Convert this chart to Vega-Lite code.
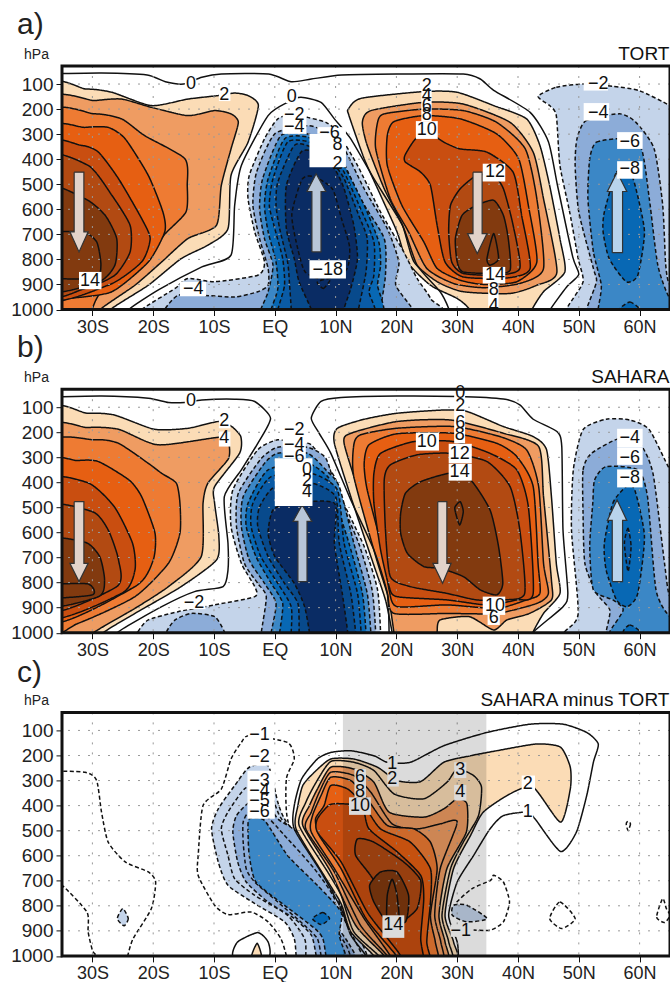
{"$schema":"https://vega.github.io/schema/vega-lite/v6.json","padding":{"left":10,"top":9,"right":0,"bottom":0},"background":"white","bounds":"flush","spacing":79.2,
"config":{"font":"Liberation Sans","view":{"stroke":null},"axis":{"domain":false,"grid":false,"labelFont":"Liberation Sans","labelFontSize":18,"labelColor":"#222","tickColor":"#111","tickSize":6,"tickWidth":1,"labelPadding":3,"titleFont":"Liberation Sans"}},
"datasets":{
"gridLat":[{"lat":-30},{"lat":-20},{"lat":-10},{"lat":0},{"lat":10},{"lat":20},{"lat":30},{"lat":40},{"lat":50},{"lat":60}],
"gridP":[{"p":100},{"p":200},{"p":300},{"p":400},{"p":500},{"p":600},{"p":700},{"p":800},{"p":900}],
"aOpen":[
{"id":"t","lat":-38,"p":60,"v":0},{"id":"t","lat":-28.5,"p":56,"v":0},{"id":"t","lat":-21,"p":64,"v":0},{"id":"t","lat":-18,"p":91,"v":0},{"id":"t","lat":-15,"p":100,"v":0},{"id":"t","lat":-12,"p":73,"v":0},{"id":"t","lat":-8.8,"p":60,"v":0},{"id":"t","lat":-1,"p":60,"v":0},{"id":"t","lat":2.7,"p":91,"v":0},{"id":"t","lat":6,"p":80,"v":0},{"id":"t","lat":11,"p":64,"v":0},{"id":"t","lat":20,"p":60,"v":0},{"id":"t","lat":31,"p":60,"v":0},{"id":"t","lat":33.8,"p":80,"v":0},{"id":"t","lat":36,"p":125,"v":0},{"id":"t","lat":42,"p":213,"v":0},{"id":"t","lat":45,"p":330,"v":0},{"id":"t","lat":46.5,"p":505,"v":0},{"id":"t","lat":49,"p":790,"v":0},{"id":"t","lat":50,"p":860,"v":0},{"id":"t","lat":48,"p":910,"v":0},{"id":"t","lat":45.3,"p":1000,"v":0},{"id":"t","lat":44.8,"p":1040,"v":0},
{"id":"i","lat":-24.5,"p":1040,"v":0},{"id":"i","lat":-24,"p":1000,"v":0},{"id":"i","lat":-19,"p":920,"v":0},{"id":"i","lat":-12,"p":830,"v":0},{"id":"i","lat":-7.2,"p":783,"v":0},{"id":"i","lat":-6.6,"p":584,"v":0},{"id":"i","lat":-5.5,"p":425,"v":0},{"id":"i","lat":-1.1,"p":226,"v":0},{"id":"i","lat":2.1,"p":173,"v":0},{"id":"i","lat":4.3,"p":153,"v":0},{"id":"i","lat":7.6,"p":173,"v":0},{"id":"i","lat":9.8,"p":239,"v":0},{"id":"i","lat":12.5,"p":319,"v":0},{"id":"i","lat":16.3,"p":478,"v":0},{"id":"i","lat":21,"p":664,"v":0},{"id":"i","lat":23.4,"p":823,"v":0},{"id":"i","lat":27.2,"p":929,"v":0},{"id":"i","lat":28.6,"p":996,"v":0},{"id":"i","lat":29,"p":1040,"v":0}],
"aClosed":[
{"id":"s2","lat":-38,"p":136,"v":2},{"id":"s2","lat":-31,"p":120,"v":2},{"id":"s2","lat":-26.8,"p":133,"v":2},{"id":"s2","lat":-20.3,"p":186,"v":2},{"id":"s2","lat":-14.3,"p":160,"v":2},{"id":"s2","lat":-9.3,"p":146,"v":2},{"id":"s2","lat":-6.6,"p":136,"v":2},{"id":"s2","lat":-4.4,"p":146,"v":2},{"id":"s2","lat":-2.7,"p":186,"v":2},{"id":"s2","lat":-4.4,"p":332,"v":2},{"id":"s2","lat":-7.2,"p":465,"v":2},{"id":"s2","lat":-7.7,"p":677,"v":2},{"id":"s2","lat":-11,"p":743,"v":2},{"id":"s2","lat":-15.4,"p":797,"v":2},{"id":"s2","lat":-20.8,"p":903,"v":2},{"id":"s2","lat":-26.8,"p":996,"v":2},{"id":"s2","lat":-27.5,"p":1040,"v":2},{"id":"s2","lat":-38,"p":1040,"v":2},
{"id":"s4","lat":-38,"p":189,"v":4},{"id":"s4","lat":-29.6,"p":166,"v":4},{"id":"s4","lat":-25.2,"p":160,"v":4},{"id":"s4","lat":-20.3,"p":193,"v":4},{"id":"s4","lat":-14.3,"p":226,"v":4},{"id":"s4","lat":-9.9,"p":206,"v":4},{"id":"s4","lat":-7.2,"p":219,"v":4},{"id":"s4","lat":-6,"p":253,"v":4},{"id":"s4","lat":-7.2,"p":359,"v":4},{"id":"s4","lat":-8.8,"p":505,"v":4},{"id":"s4","lat":-9.6,"p":664,"v":4},{"id":"s4","lat":-14.3,"p":717,"v":4},{"id":"s4","lat":-18.6,"p":810,"v":4},{"id":"s4","lat":-23,"p":903,"v":4},{"id":"s4","lat":-28.5,"p":996,"v":4},{"id":"s4","lat":-29,"p":1040,"v":4},{"id":"s4","lat":-38,"p":1040,"v":4},
{"id":"s6","lat":-38,"p":237,"v":6},{"id":"s6","lat":-29.6,"p":219,"v":6},{"id":"s6","lat":-25.2,"p":239,"v":6},{"id":"s6","lat":-21.4,"p":306,"v":6},{"id":"s6","lat":-14.8,"p":398,"v":6},{"id":"s6","lat":-14.4,"p":505,"v":6},{"id":"s6","lat":-14.6,"p":610,"v":6},{"id":"s6","lat":-18,"p":697,"v":6},{"id":"s6","lat":-22,"p":810,"v":6},{"id":"s6","lat":-28.5,"p":929,"v":6},{"id":"s6","lat":-30,"p":996,"v":6},{"id":"s6","lat":-30.5,"p":1040,"v":6},{"id":"s6","lat":-38,"p":1040,"v":6},
{"id":"s8","lat":-38,"p":296,"v":8},{"id":"s8","lat":-31.2,"p":273,"v":8},{"id":"s8","lat":-27.4,"p":273,"v":8},{"id":"s8","lat":-24.6,"p":319,"v":8},{"id":"s8","lat":-20.8,"p":465,"v":8},{"id":"s8","lat":-18.4,"p":611,"v":8},{"id":"s8","lat":-18.1,"p":690,"v":8},{"id":"s8","lat":-20.8,"p":810,"v":8},{"id":"s8","lat":-26.8,"p":929,"v":8},{"id":"s8","lat":-34,"p":956,"v":8},{"id":"s8","lat":-38,"p":960,"v":8},
{"id":"s10","lat":-38,"p":352,"v":10},{"id":"s10","lat":-31.8,"p":345,"v":10},{"id":"s10","lat":-29,"p":372,"v":10},{"id":"s10","lat":-25.7,"p":478,"v":10},{"id":"s10","lat":-21.9,"p":637,"v":10},{"id":"s10","lat":-20.5,"p":717,"v":10},{"id":"s10","lat":-21.9,"p":810,"v":10},{"id":"s10","lat":-27.4,"p":903,"v":10},{"id":"s10","lat":-38,"p":945,"v":10},
{"id":"s12","lat":-38,"p":399,"v":12},{"id":"s12","lat":-30.7,"p":425,"v":12},{"id":"s12","lat":-26.8,"p":544,"v":12},{"id":"s12","lat":-23.8,"p":664,"v":12},{"id":"s12","lat":-23.8,"p":770,"v":12},{"id":"s12","lat":-26.3,"p":863,"v":12},{"id":"s12","lat":-31.2,"p":916,"v":12},{"id":"s12","lat":-38,"p":932,"v":12},
{"id":"s14","lat":-38,"p":515,"v":14},{"id":"s14","lat":-31.2,"p":558,"v":14},{"id":"s14","lat":-27.9,"p":624,"v":14},{"id":"s14","lat":-26,"p":717,"v":14},{"id":"s14","lat":-26.3,"p":823,"v":14},{"id":"s14","lat":-29,"p":890,"v":14},{"id":"s14","lat":-38,"p":918,"v":14},
{"id":"s16","lat":-38,"p":704,"v":16},{"id":"s16","lat":-31.7,"p":690,"v":16},{"id":"s16","lat":-29.3,"p":730,"v":16},{"id":"s16","lat":-28.6,"p":823,"v":16},{"id":"s16","lat":-29.6,"p":876,"v":16},{"id":"s16","lat":-38,"p":863,"v":16},
{"id":"n2","lat":12.1,"p":200,"v":2},{"id":"n2","lat":14.2,"p":157,"v":2},{"id":"n2","lat":24.5,"p":130,"v":2},{"id":"n2","lat":30,"p":133,"v":2},{"id":"n2","lat":36,"p":186,"v":2},{"id":"n2","lat":41.4,"p":239,"v":2},{"id":"n2","lat":43.6,"p":345,"v":2},{"id":"n2","lat":45.2,"p":505,"v":2},{"id":"n2","lat":46.9,"p":717,"v":2},{"id":"n2","lat":47.7,"p":850,"v":2},{"id":"n2","lat":44.2,"p":929,"v":2},{"id":"n2","lat":42.3,"p":1000,"v":2},{"id":"n2","lat":42,"p":1040,"v":2},{"id":"n2","lat":32,"p":1040,"v":2},{"id":"n2","lat":31.9,"p":996,"v":2},{"id":"n2","lat":30,"p":956,"v":2},{"id":"n2","lat":25.6,"p":903,"v":2},{"id":"n2","lat":21.8,"p":810,"v":2},{"id":"n2","lat":20.1,"p":690,"v":2},{"id":"n2","lat":17.4,"p":544,"v":2},{"id":"n2","lat":14.7,"p":398,"v":2},{"id":"n2","lat":12.2,"p":226,"v":2},
{"id":"n4","lat":14.4,"p":253,"v":4},{"id":"n4","lat":15.8,"p":206,"v":4},{"id":"n4","lat":24.5,"p":173,"v":4},{"id":"n4","lat":31,"p":180,"v":4},{"id":"n4","lat":38.7,"p":253,"v":4},{"id":"n4","lat":42.5,"p":372,"v":4},{"id":"n4","lat":44.2,"p":558,"v":4},{"id":"n4","lat":46.4,"p":850,"v":4},{"id":"n4","lat":43.1,"p":903,"v":4},{"id":"n4","lat":38.7,"p":936,"v":4},{"id":"n4","lat":31,"p":929,"v":4},{"id":"n4","lat":26.7,"p":889,"v":4},{"id":"n4","lat":22.9,"p":810,"v":4},{"id":"n4","lat":21,"p":664,"v":4},{"id":"n4","lat":18,"p":518,"v":4},{"id":"n4","lat":15.2,"p":345,"v":4},
{"id":"n6","lat":16.9,"p":253,"v":6},{"id":"n6","lat":18,"p":219,"v":6},{"id":"n6","lat":24.5,"p":200,"v":6},{"id":"n6","lat":31,"p":206,"v":6},{"id":"n6","lat":36.5,"p":253,"v":6},{"id":"n6","lat":41.2,"p":359,"v":6},{"id":"n6","lat":43.1,"p":558,"v":6},{"id":"n6","lat":44.2,"p":836,"v":6},{"id":"n6","lat":40.3,"p":896,"v":6},{"id":"n6","lat":34.4,"p":913,"v":6},{"id":"n6","lat":29.4,"p":896,"v":6},{"id":"n6","lat":25,"p":836,"v":6},{"id":"n6","lat":22,"p":690,"v":6},{"id":"n6","lat":19,"p":558,"v":6},{"id":"n6","lat":16.6,"p":359,"v":6},
{"id":"n8","lat":18.5,"p":306,"v":8},{"id":"n8","lat":19.6,"p":250,"v":8},{"id":"n8","lat":24.5,"p":226,"v":8},{"id":"n8","lat":30.5,"p":239,"v":8},{"id":"n8","lat":36.5,"p":299,"v":8},{"id":"n8","lat":40.1,"p":398,"v":8},{"id":"n8","lat":41.7,"p":584,"v":8},{"id":"n8","lat":43.1,"p":810,"v":8},{"id":"n8","lat":39.8,"p":889,"v":8},{"id":"n8","lat":34.4,"p":900,"v":8},{"id":"n8","lat":30.5,"p":883,"v":8},{"id":"n8","lat":26.7,"p":836,"v":8},{"id":"n8","lat":24.5,"p":730,"v":8},{"id":"n8","lat":20.9,"p":584,"v":8},{"id":"n8","lat":18.5,"p":425,"v":8},
{"id":"n10","lat":21.4,"p":385,"v":10},{"id":"n10","lat":22.9,"p":326,"v":10},{"id":"n10","lat":24.8,"p":286,"v":10},{"id":"n10","lat":27.8,"p":332,"v":10},{"id":"n10","lat":30.5,"p":359,"v":10},{"id":"n10","lat":34.9,"p":372,"v":10},{"id":"n10","lat":39.2,"p":452,"v":10},{"id":"n10","lat":40.6,"p":624,"v":10},{"id":"n10","lat":42,"p":836,"v":10},{"id":"n10","lat":38.2,"p":874,"v":10},{"id":"n10","lat":31,"p":870,"v":10},{"id":"n10","lat":28,"p":810,"v":10},{"id":"n10","lat":26.7,"p":664,"v":10},{"id":"n10","lat":25.6,"p":505,"v":10},{"id":"n10","lat":24,"p":452,"v":10},{"id":"n10","lat":21.5,"p":412,"v":10},
{"id":"n12","lat":28.9,"p":584,"v":12},{"id":"n12","lat":30.5,"p":518,"v":12},{"id":"n12","lat":33.2,"p":465,"v":12},{"id":"n12","lat":36,"p":465,"v":12},{"id":"n12","lat":37.6,"p":518,"v":12},{"id":"n12","lat":39.2,"p":664,"v":12},{"id":"n12","lat":40.3,"p":836,"v":12},{"id":"n12","lat":36.5,"p":863,"v":12},{"id":"n12","lat":31,"p":856,"v":12},{"id":"n12","lat":29.1,"p":810,"v":12},{"id":"n12","lat":28.6,"p":690,"v":12},
{"id":"n14","lat":29.7,"p":717,"v":14},{"id":"n14","lat":30.8,"p":624,"v":14},{"id":"n14","lat":33.2,"p":584,"v":14},{"id":"n14","lat":36,"p":564,"v":14},{"id":"n14","lat":37.6,"p":624,"v":14},{"id":"n14","lat":38.4,"p":717,"v":14},{"id":"n14","lat":38.7,"p":843,"v":14},{"id":"n14","lat":36,"p":856,"v":14},{"id":"n14","lat":31,"p":850,"v":14},{"id":"n14","lat":30,"p":810,"v":14},
{"id":"n16","lat":34.9,"p":797,"v":16},{"id":"n16","lat":36,"p":697,"v":16},{"id":"n16","lat":36.8,"p":797,"v":16},{"id":"n16","lat":35.4,"p":823,"v":16},
{"id":"e2","lat":43.3,"p":149,"v":-2},{"id":"e2","lat":46.3,"p":113,"v":-2},{"id":"e2","lat":50.7,"p":100,"v":-2},{"id":"e2","lat":55.6,"p":109,"v":-2},{"id":"e2","lat":60,"p":127,"v":-2},{"id":"e2","lat":65,"p":186,"v":-2},{"id":"e2","lat":68,"p":230,"v":-2},{"id":"e2","lat":68,"p":1040,"v":-2},{"id":"e2","lat":48,"p":1040,"v":-2},{"id":"e2","lat":48.2,"p":989,"v":-2},{"id":"e2","lat":50.7,"p":890,"v":-2},{"id":"e2","lat":49.9,"p":797,"v":-2},{"id":"e2","lat":48.5,"p":611,"v":-2},{"id":"e2","lat":46.9,"p":425,"v":-2},{"id":"e2","lat":46.3,"p":226,"v":-2},{"id":"e2","lat":45.2,"p":186,"v":-2},
{"id":"e4","lat":49.7,"p":319,"v":-4},{"id":"e4","lat":51.2,"p":246,"v":-4},{"id":"e4","lat":56.7,"p":219,"v":-4},{"id":"e4","lat":59.4,"p":253,"v":-4},{"id":"e4","lat":62.4,"p":359,"v":-4},{"id":"e4","lat":63.8,"p":584,"v":-4},{"id":"e4","lat":64.3,"p":823,"v":-4},{"id":"e4","lat":65,"p":903,"v":-4},{"id":"e4","lat":68,"p":930,"v":-4},{"id":"e4","lat":68,"p":1040,"v":-4},{"id":"e4","lat":51,"p":1040,"v":-4},{"id":"e4","lat":51.3,"p":996,"v":-4},{"id":"e4","lat":52.9,"p":890,"v":-4},{"id":"e4","lat":52.4,"p":836,"v":-4},{"id":"e4","lat":50,"p":611,"v":-4},{"id":"e4","lat":49.4,"p":425,"v":-4},
{"id":"e6","lat":51.8,"p":398,"v":-6},{"id":"e6","lat":52.9,"p":332,"v":-6},{"id":"e6","lat":57.2,"p":319,"v":-6},{"id":"e6","lat":60.3,"p":359,"v":-6},{"id":"e6","lat":61.6,"p":558,"v":-6},{"id":"e6","lat":63,"p":823,"v":-6},{"id":"e6","lat":65,"p":956,"v":-6},{"id":"e6","lat":68,"p":980,"v":-6},{"id":"e6","lat":68,"p":1040,"v":-6},{"id":"e6","lat":53.2,"p":1040,"v":-6},{"id":"e6","lat":53.2,"p":996,"v":-6},{"id":"e6","lat":53.7,"p":903,"v":-6},{"id":"e6","lat":52.4,"p":770,"v":-6},{"id":"e6","lat":51.5,"p":558,"v":-6},
{"id":"e8","lat":54.2,"p":611,"v":-8},{"id":"e8","lat":56.2,"p":452,"v":-8},{"id":"e8","lat":58.4,"p":452,"v":-8},{"id":"e8","lat":59.4,"p":518,"v":-8},{"id":"e8","lat":60.8,"p":690,"v":-8},{"id":"e8","lat":59.7,"p":863,"v":-8},{"id":"e8","lat":57.8,"p":889,"v":-8},{"id":"e8","lat":55,"p":797,"v":-8},{"id":"e8","lat":54,"p":690,"v":-8},
{"id":"e8b","lat":56.7,"p":1000,"v":-8},{"id":"e8b","lat":58.4,"p":970,"v":-8},{"id":"e8b","lat":60,"p":1000,"v":-8},{"id":"e8b","lat":58.4,"p":1040,"v":-8},
{"id":"m2","lat":-22.5,"p":1040,"v":-2},{"id":"m2","lat":-21.9,"p":1000,"v":-2},{"id":"m2","lat":-16.4,"p":916,"v":-2},{"id":"m2","lat":-14.3,"p":876,"v":-2},{"id":"m2","lat":-9.9,"p":889,"v":-2},{"id":"m2","lat":-2.8,"p":863,"v":-2},{"id":"m2","lat":-1.7,"p":810,"v":-2},{"id":"m2","lat":-3.3,"p":690,"v":-2},{"id":"m2","lat":-4.4,"p":558,"v":-2},{"id":"m2","lat":-4.2,"p":465,"v":-2},{"id":"m2","lat":-1.7,"p":319,"v":-2},{"id":"m2","lat":0.5,"p":239,"v":-2},{"id":"m2","lat":3.2,"p":219,"v":-2},{"id":"m2","lat":5.4,"p":233,"v":-2},{"id":"m2","lat":8.4,"p":253,"v":-2},{"id":"m2","lat":10.3,"p":292,"v":-2},{"id":"m2","lat":13.6,"p":425,"v":-2},{"id":"m2","lat":17.4,"p":611,"v":-2},{"id":"m2","lat":21.2,"p":770,"v":-2},{"id":"m2","lat":23.4,"p":876,"v":-2},{"id":"m2","lat":25.6,"p":956,"v":-2},{"id":"m2","lat":26,"p":1040,"v":-2},
{"id":"m4","lat":-18.5,"p":1040,"v":-4},{"id":"m4","lat":-18,"p":996,"v":-4},{"id":"m4","lat":-15.9,"p":943,"v":-4},{"id":"m4","lat":-12,"p":943,"v":-4},{"id":"m4","lat":-6.6,"p":950,"v":-4},{"id":"m4","lat":-2.8,"p":929,"v":-4},{"id":"m4","lat":-1.1,"p":903,"v":-4},{"id":"m4","lat":-1.1,"p":836,"v":-4},{"id":"m4","lat":-2.5,"p":717,"v":-4},{"id":"m4","lat":-3.6,"p":584,"v":-4},{"id":"m4","lat":-3,"p":452,"v":-4},{"id":"m4","lat":0,"p":299,"v":-4},{"id":"m4","lat":5.4,"p":266,"v":-4},{"id":"m4","lat":8.4,"p":292,"v":-4},{"id":"m4","lat":11.4,"p":359,"v":-4},{"id":"m4","lat":14.7,"p":518,"v":-4},{"id":"m4","lat":18.5,"p":677,"v":-4},{"id":"m4","lat":20.4,"p":810,"v":-4},{"id":"m4","lat":19.9,"p":903,"v":-4},{"id":"m4","lat":22.6,"p":996,"v":-4},{"id":"m4","lat":22.8,"p":1040,"v":-4},
{"id":"m6","lat":-2.5,"p":1040,"v":-6},{"id":"m6","lat":-2.3,"p":1000,"v":-6},{"id":"m6","lat":-1.1,"p":929,"v":-6},{"id":"m6","lat":-0.3,"p":823,"v":-6},{"id":"m6","lat":-1.7,"p":717,"v":-6},{"id":"m6","lat":-2.5,"p":597,"v":-6},{"id":"m6","lat":-2,"p":478,"v":-6},{"id":"m6","lat":1,"p":306,"v":-6},{"id":"m6","lat":5.4,"p":299,"v":-6},{"id":"m6","lat":9.8,"p":345,"v":-6},{"id":"m6","lat":10.8,"p":385,"v":-6},{"id":"m6","lat":14.1,"p":558,"v":-6},{"id":"m6","lat":18,"p":717,"v":-6},{"id":"m6","lat":18.2,"p":863,"v":-6},{"id":"m6","lat":17.4,"p":996,"v":-6},{"id":"m6","lat":17.4,"p":1040,"v":-6},
{"id":"m8","lat":-0.8,"p":1040,"v":-8},{"id":"m8","lat":-0.6,"p":1000,"v":-8},{"id":"m8","lat":0.5,"p":916,"v":-8},{"id":"m8","lat":0.2,"p":810,"v":-8},{"id":"m8","lat":-1.1,"p":690,"v":-8},{"id":"m8","lat":-1.7,"p":584,"v":-8},{"id":"m8","lat":-1.1,"p":478,"v":-8},{"id":"m8","lat":1.6,"p":319,"v":-8},{"id":"m8","lat":5.4,"p":312,"v":-8},{"id":"m8","lat":9.8,"p":372,"v":-8},{"id":"m8","lat":11.4,"p":425,"v":-8},{"id":"m8","lat":14.7,"p":584,"v":-8},{"id":"m8","lat":17.1,"p":730,"v":-8},{"id":"m8","lat":17.4,"p":823,"v":-8},{"id":"m8","lat":16.9,"p":903,"v":-8},{"id":"m8","lat":17.2,"p":1040,"v":-8},
{"id":"m10","lat":0.3,"p":1040,"v":-10},{"id":"m10","lat":0.5,"p":1000,"v":-10},{"id":"m10","lat":1.6,"p":903,"v":-10},{"id":"m10","lat":1.3,"p":797,"v":-10},{"id":"m10","lat":0,"p":677,"v":-10},{"id":"m10","lat":-0.9,"p":584,"v":-10},{"id":"m10","lat":-0.3,"p":478,"v":-10},{"id":"m10","lat":2.1,"p":332,"v":-10},{"id":"m10","lat":5.7,"p":332,"v":-10},{"id":"m10","lat":9.8,"p":398,"v":-10},{"id":"m10","lat":11.4,"p":452,"v":-10},{"id":"m10","lat":14.1,"p":597,"v":-10},{"id":"m10","lat":16.3,"p":730,"v":-10},{"id":"m10","lat":16.3,"p":863,"v":-10},{"id":"m10","lat":15.5,"p":929,"v":-10},{"id":"m10","lat":16,"p":1040,"v":-10},
{"id":"m12","lat":2.6,"p":1040,"v":-12},{"id":"m12","lat":2.7,"p":1000,"v":-12},{"id":"m12","lat":2.4,"p":890,"v":-12},{"id":"m12","lat":2.1,"p":810,"v":-12},{"id":"m12","lat":0.8,"p":677,"v":-12},{"id":"m12","lat":0.2,"p":584,"v":-12},{"id":"m12","lat":0.5,"p":491,"v":-12},{"id":"m12","lat":3.2,"p":345,"v":-12},{"id":"m12","lat":6,"p":352,"v":-12},{"id":"m12","lat":9.8,"p":425,"v":-12},{"id":"m12","lat":11.4,"p":478,"v":-12},{"id":"m12","lat":13.8,"p":624,"v":-12},{"id":"m12","lat":15.2,"p":717,"v":-12},{"id":"m12","lat":15,"p":850,"v":-12},{"id":"m12","lat":13.8,"p":996,"v":-12},{"id":"m12","lat":13.8,"p":1040,"v":-12},
{"id":"m14","lat":6,"p":1040,"v":-14},{"id":"m14","lat":6,"p":1000,"v":-14},{"id":"m14","lat":4,"p":890,"v":-14},{"id":"m14","lat":3.2,"p":797,"v":-14},{"id":"m14","lat":1.9,"p":677,"v":-14},{"id":"m14","lat":1.9,"p":505,"v":-14},{"id":"m14","lat":4.3,"p":372,"v":-14},{"id":"m14","lat":6.5,"p":372,"v":-14},{"id":"m14","lat":9.8,"p":438,"v":-14},{"id":"m14","lat":11.4,"p":518,"v":-14},{"id":"m14","lat":13,"p":664,"v":-14},{"id":"m14","lat":13.6,"p":797,"v":-14},{"id":"m14","lat":12.5,"p":916,"v":-14},{"id":"m14","lat":11.4,"p":996,"v":-14},{"id":"m14","lat":11.4,"p":1040,"v":-14},
{"id":"m16","lat":2.8,"p":620,"v":-16},{"id":"m16","lat":4.5,"p":480,"v":-16},{"id":"m16","lat":6.5,"p":470,"v":-16},{"id":"m16","lat":9.5,"p":520,"v":-16},{"id":"m16","lat":11,"p":640,"v":-16},{"id":"m16","lat":12.3,"p":750,"v":-16},{"id":"m16","lat":11.8,"p":840,"v":-16},{"id":"m16","lat":8,"p":880,"v":-16},{"id":"m16","lat":5,"p":850,"v":-16},{"id":"m16","lat":3.8,"p":760,"v":-16},
{"id":"m18","lat":7,"p":890,"v":-18},{"id":"m18","lat":8,"p":916,"v":-18},{"id":"m18","lat":9.2,"p":876,"v":-18}],
"aArrow":[
{"id":"a1","kind":"sink","lat":-33,"p":452},{"id":"a1","kind":"sink","lat":-31.4,"p":452},{"id":"a1","kind":"sink","lat":-31.4,"p":690},{"id":"a1","kind":"sink","lat":-30.7,"p":690},{"id":"a1","kind":"sink","lat":-32.2,"p":770},{"id":"a1","kind":"sink","lat":-33.7,"p":690},{"id":"a1","kind":"sink","lat":-33,"p":690},{"id":"a1","kind":"sink","lat":-33,"p":452},
{"id":"a2","kind":"rise","lat":6.1,"p":770},{"id":"a2","kind":"rise","lat":7.6,"p":770},{"id":"a2","kind":"rise","lat":7.6,"p":529},{"id":"a2","kind":"rise","lat":8.4,"p":529},{"id":"a2","kind":"rise","lat":6.8,"p":458},{"id":"a2","kind":"rise","lat":5.3,"p":529},{"id":"a2","kind":"rise","lat":6.1,"p":529},{"id":"a2","kind":"rise","lat":6.1,"p":770},
{"id":"a3","kind":"sink","lat":32.6,"p":452},{"id":"a3","kind":"sink","lat":34.1,"p":452},{"id":"a3","kind":"sink","lat":34.1,"p":697},{"id":"a3","kind":"sink","lat":34.9,"p":697},{"id":"a3","kind":"sink","lat":33.3,"p":777},{"id":"a3","kind":"sink","lat":31.7,"p":697},{"id":"a3","kind":"sink","lat":32.6,"p":697},{"id":"a3","kind":"sink","lat":32.6,"p":452},
{"id":"a4","kind":"riseb","lat":55.5,"p":773},{"id":"a4","kind":"riseb","lat":57.2,"p":773},{"id":"a4","kind":"riseb","lat":57.2,"p":529},{"id":"a4","kind":"riseb","lat":57.9,"p":529},{"id":"a4","kind":"riseb","lat":56.3,"p":452},{"id":"a4","kind":"riseb","lat":54.7,"p":529},{"id":"a4","kind":"riseb","lat":55.5,"p":529},{"id":"a4","kind":"riseb","lat":55.5,"p":773}],
"aBox":[
{"lat0":-14.8,"lat1":-12.9,"p0":78,"p1":122},{"lat0":-9.2,"lat1":-7.3,"p0":118,"p1":168},{"lat0":1.8,"lat1":3.8,"p0":130,"p1":176},{"lat0":1.3,"lat1":5.2,"p0":205,"p1":299},{"lat0":5.7,"lat1":11.7,"p0":299,"p1":432},{"lat0":7,"lat1":11.7,"p0":272,"p1":299},{"lat0":5.7,"lat1":11.7,"p0":803,"p1":876},{"lat0":-32.2,"lat1":-28.5,"p0":850,"p1":919},{"lat0":-15.6,"lat1":-11.3,"p0":890,"p1":947},{"lat0":24.1,"lat1":25.8,"p0":78,"p1":248},{"lat0":23.2,"lat1":26.8,"p0":248,"p1":319},{"lat0":34.2,"lat1":37.9,"p0":418,"p1":489},{"lat0":34.2,"lat1":37.9,"p0":830,"p1":896},{"lat0":35.1,"lat1":36.8,"p0":896,"p1":1000},{"lat0":50.8,"lat1":54.8,"p0":80,"p1":126},{"lat0":50.8,"lat1":55,"p0":176,"p1":246},{"lat0":56.3,"lat1":60.5,"p0":292,"p1":359},{"lat0":56.3,"lat1":60.5,"p0":408,"p1":478}],
"aText":[
{"t":"0","lat":-13.8,"p":100},{"t":"2","lat":-8.3,"p":143},{"t":"0","lat":2.8,"p":153},{"t":"−2","lat":3.2,"p":223},{"t":"−4","lat":3.2,"p":272},{"t":"−6","lat":9,"p":296},{"t":"8","lat":10.3,"p":345},{"t":"2","lat":10.3,"p":420},{"t":"−18","lat":8.7,"p":843},{"t":"14","lat":-30.4,"p":887},{"t":"−4","lat":-13.4,"p":919},{"t":"2","lat":25,"p":109},{"t":"4","lat":25,"p":148},{"t":"6","lat":25,"p":186},{"t":"8","lat":25,"p":222},{"t":"10","lat":25,"p":283},{"t":"12","lat":36.2,"p":452},{"t":"14","lat":36.2,"p":863},{"t":"8","lat":36,"p":923},{"t":"4","lat":36,"p":985},{"t":"−2","lat":53.2,"p":100},{"t":"−4","lat":53.2,"p":215},{"t":"−6","lat":58.4,"p":330},{"t":"−8","lat":58.4,"p":441}],
"bOpen":[
{"id":"a","lat":-38,"p":60,"v":0},{"id":"a","lat":-28.5,"p":55,"v":0},{"id":"a","lat":-20.8,"p":64,"v":0},{"id":"a","lat":-17.5,"p":81,"v":0},{"id":"a","lat":-14.8,"p":81,"v":0},{"id":"a","lat":-12,"p":71,"v":0},{"id":"a","lat":-6.6,"p":68,"v":0},{"id":"a","lat":-3.3,"p":77,"v":0},{"id":"a","lat":-0.7,"p":144,"v":0},{"id":"a","lat":-2.8,"p":244,"v":0},{"id":"a","lat":-5.5,"p":350,"v":0},{"id":"a","lat":-8.3,"p":457,"v":0},{"id":"a","lat":-7.7,"p":643,"v":0},{"id":"a","lat":-7.7,"p":750,"v":0},{"id":"a","lat":-8.5,"p":816,"v":0},{"id":"a","lat":-13.2,"p":836,"v":0},{"id":"a","lat":-18.6,"p":896,"v":0},{"id":"a","lat":-25.7,"p":996,"v":0},{"id":"a","lat":-26,"p":1040,"v":0},
{"id":"b","lat":18.8,"p":1040,"v":0},{"id":"b","lat":18.8,"p":1000,"v":0},{"id":"b","lat":18.5,"p":843,"v":0},{"id":"b","lat":16.3,"p":670,"v":0},{"id":"b","lat":12.5,"p":470,"v":0},{"id":"b","lat":9.2,"p":283,"v":0},{"id":"b","lat":7.3,"p":204,"v":0},{"id":"b","lat":6,"p":144,"v":0},{"id":"b","lat":7.6,"p":77,"v":0},{"id":"b","lat":10.9,"p":61,"v":0},{"id":"b","lat":20.1,"p":55,"v":0},{"id":"b","lat":30,"p":57,"v":0},{"id":"b","lat":37.6,"p":67,"v":0},{"id":"b","lat":40.3,"p":91,"v":0},{"id":"b","lat":42.5,"p":148,"v":0},{"id":"b","lat":46.4,"p":197,"v":0},{"id":"b","lat":47.2,"p":257,"v":0},{"id":"b","lat":47.4,"p":590,"v":0},{"id":"b","lat":48.2,"p":843,"v":0},{"id":"b","lat":47.4,"p":896,"v":0},{"id":"b","lat":42.6,"p":996,"v":0},{"id":"b","lat":42,"p":1040,"v":0}],
"bClosed":[
{"id":"s2","lat":-38,"p":140,"v":2},{"id":"s2","lat":-30.8,"p":124,"v":2},{"id":"s2","lat":-26.4,"p":131,"v":2},{"id":"s2","lat":-19.8,"p":188,"v":2},{"id":"s2","lat":-14.3,"p":184,"v":2},{"id":"s2","lat":-9.3,"p":157,"v":2},{"id":"s2","lat":-7.2,"p":175,"v":2},{"id":"s2","lat":-5.6,"p":217,"v":2},{"id":"s2","lat":-5.8,"p":284,"v":2},{"id":"s2","lat":-9.9,"p":417,"v":2},{"id":"s2","lat":-9.9,"p":483,"v":2},{"id":"s2","lat":-9.2,"p":616,"v":2},{"id":"s2","lat":-9.6,"p":710,"v":2},{"id":"s2","lat":-15.4,"p":816,"v":2},{"id":"s2","lat":-23,"p":923,"v":2},{"id":"s2","lat":-28.2,"p":1000,"v":2},{"id":"s2","lat":-28.5,"p":1040,"v":2},{"id":"s2","lat":-38,"p":1040,"v":2},
{"id":"s4","lat":-38,"p":210,"v":4},{"id":"s4","lat":-30.8,"p":181,"v":4},{"id":"s4","lat":-25.7,"p":188,"v":4},{"id":"s4","lat":-19.2,"p":250,"v":4},{"id":"s4","lat":-9.3,"p":220,"v":4},{"id":"s4","lat":-7.7,"p":230,"v":4},{"id":"s4","lat":-7.6,"p":304,"v":4},{"id":"s4","lat":-11,"p":403,"v":4},{"id":"s4","lat":-11.8,"p":483,"v":4},{"id":"s4","lat":-12.1,"p":696,"v":4},{"id":"s4","lat":-17.5,"p":816,"v":4},{"id":"s4","lat":-23,"p":903,"v":4},{"id":"s4","lat":-29.8,"p":1000,"v":4},{"id":"s4","lat":-30,"p":1040,"v":4},{"id":"s4","lat":-38,"p":1040,"v":4},
{"id":"s6","lat":-38,"p":267,"v":6},{"id":"s6","lat":-29.6,"p":230,"v":6},{"id":"s6","lat":-25.7,"p":244,"v":6},{"id":"s6","lat":-20.8,"p":324,"v":6},{"id":"s6","lat":-18.6,"p":364,"v":6},{"id":"s6","lat":-16.2,"p":403,"v":6},{"id":"s6","lat":-15.6,"p":483,"v":6},{"id":"s6","lat":-15.6,"p":603,"v":6},{"id":"s6","lat":-17.5,"p":723,"v":6},{"id":"s6","lat":-23,"p":856,"v":6},{"id":"s6","lat":-32.3,"p":962,"v":6},{"id":"s6","lat":-38,"p":985,"v":6},
{"id":"s8","lat":-38,"p":337,"v":8},{"id":"s8","lat":-32.4,"p":313,"v":8},{"id":"s8","lat":-29,"p":317,"v":8},{"id":"s8","lat":-24,"p":390,"v":8},{"id":"s8","lat":-21.9,"p":457,"v":8},{"id":"s8","lat":-19.7,"p":603,"v":8},{"id":"s8","lat":-20,"p":710,"v":8},{"id":"s8","lat":-23,"p":816,"v":8},{"id":"s8","lat":-38,"p":955,"v":8},
{"id":"s10","lat":-38,"p":406,"v":10},{"id":"s10","lat":-30.8,"p":401,"v":10},{"id":"s10","lat":-26.4,"p":497,"v":10},{"id":"s10","lat":-23.4,"p":643,"v":10},{"id":"s10","lat":-23,"p":750,"v":10},{"id":"s10","lat":-25.2,"p":843,"v":10},{"id":"s10","lat":-38,"p":935,"v":10},
{"id":"s12","lat":-38,"p":503,"v":12},{"id":"s12","lat":-30,"p":517,"v":12},{"id":"s12","lat":-27.4,"p":590,"v":12},{"id":"s12","lat":-25.7,"p":710,"v":12},{"id":"s12","lat":-26,"p":816,"v":12},{"id":"s12","lat":-38,"p":915,"v":12},
{"id":"s14","lat":-38,"p":632,"v":14},{"id":"s14","lat":-31.2,"p":639,"v":14},{"id":"s14","lat":-28.8,"p":696,"v":14},{"id":"s14","lat":-28,"p":790,"v":14},{"id":"s14","lat":-29,"p":856,"v":14},{"id":"s14","lat":-38,"p":892,"v":14},
{"id":"s16","lat":-38,"p":812,"v":16},{"id":"s16","lat":-30.8,"p":805,"v":16},{"id":"s16","lat":-30,"p":849,"v":16},{"id":"s16","lat":-38,"p":862,"v":16},
{"id":"n2","lat":9.8,"p":244,"v":2},{"id":"n2","lat":10.3,"p":184,"v":2},{"id":"n2","lat":14.7,"p":148,"v":2},{"id":"n2","lat":20.1,"p":124,"v":2},{"id":"n2","lat":27.8,"p":111,"v":2},{"id":"n2","lat":31.6,"p":117,"v":2},{"id":"n2","lat":37.6,"p":177,"v":2},{"id":"n2","lat":42.5,"p":217,"v":2},{"id":"n2","lat":44.7,"p":270,"v":2},{"id":"n2","lat":45.5,"p":457,"v":2},{"id":"n2","lat":46.3,"p":723,"v":2},{"id":"n2","lat":46.9,"p":843,"v":2},{"id":"n2","lat":44.2,"p":923,"v":2},{"id":"n2","lat":42.5,"p":996,"v":2},{"id":"n2","lat":42,"p":1040,"v":2},{"id":"n2","lat":19.5,"p":1040,"v":2},{"id":"n2","lat":19.3,"p":1000,"v":2},{"id":"n2","lat":18.2,"p":869,"v":2},{"id":"n2","lat":15.8,"p":696,"v":2},{"id":"n2","lat":12.5,"p":457,"v":2},
{"id":"n4","lat":11.4,"p":244,"v":4},{"id":"n4","lat":12.5,"p":204,"v":4},{"id":"n4","lat":20.1,"p":157,"v":4},{"id":"n4","lat":28.9,"p":151,"v":4},{"id":"n4","lat":37.6,"p":204,"v":4},{"id":"n4","lat":43.4,"p":257,"v":4},{"id":"n4","lat":44.2,"p":457,"v":4},{"id":"n4","lat":45.5,"p":790,"v":4},{"id":"n4","lat":45.5,"p":869,"v":4},{"id":"n4","lat":41.9,"p":923,"v":4},{"id":"n4","lat":38.2,"p":949,"v":4},{"id":"n4","lat":36,"p":989,"v":4},{"id":"n4","lat":32,"p":936,"v":4},{"id":"n4","lat":27.2,"p":949,"v":4},{"id":"n4","lat":26.7,"p":996,"v":4},{"id":"n4","lat":26.7,"p":1040,"v":4},{"id":"n4","lat":19.8,"p":1040,"v":4},{"id":"n4","lat":19.6,"p":1000,"v":4},{"id":"n4","lat":18.8,"p":869,"v":4},{"id":"n4","lat":17.4,"p":696,"v":4},{"id":"n4","lat":14.1,"p":457,"v":4},
{"id":"n6","lat":13,"p":250,"v":6},{"id":"n6","lat":14.1,"p":210,"v":6},{"id":"n6","lat":20,"p":184,"v":6},{"id":"n6","lat":29.4,"p":177,"v":6},{"id":"n6","lat":37,"p":217,"v":6},{"id":"n6","lat":41.4,"p":270,"v":6},{"id":"n6","lat":43.4,"p":417,"v":6},{"id":"n6","lat":44.2,"p":723,"v":6},{"id":"n6","lat":45,"p":843,"v":6},{"id":"n6","lat":43.1,"p":883,"v":6},{"id":"n6","lat":36.5,"p":923,"v":6},{"id":"n6","lat":28.3,"p":923,"v":6},{"id":"n6","lat":19.6,"p":923,"v":6},{"id":"n6","lat":18.5,"p":843,"v":6},{"id":"n6","lat":16.6,"p":696,"v":6},{"id":"n6","lat":13,"p":377,"v":6},
{"id":"n8","lat":14.7,"p":324,"v":8},{"id":"n8","lat":15.5,"p":250,"v":8},{"id":"n8","lat":20.1,"p":206,"v":8},{"id":"n8","lat":29.4,"p":204,"v":8},{"id":"n8","lat":36.5,"p":244,"v":8},{"id":"n8","lat":39.8,"p":297,"v":8},{"id":"n8","lat":42.5,"p":417,"v":8},{"id":"n8","lat":43.3,"p":723,"v":8},{"id":"n8","lat":43.6,"p":843,"v":8},{"id":"n8","lat":41.4,"p":869,"v":8},{"id":"n8","lat":36.5,"p":903,"v":8},{"id":"n8","lat":28.3,"p":889,"v":8},{"id":"n8","lat":20.1,"p":896,"v":8},{"id":"n8","lat":18.8,"p":829,"v":8},{"id":"n8","lat":18,"p":696,"v":8},{"id":"n8","lat":15.2,"p":430,"v":8},
{"id":"n10","lat":16.3,"p":364,"v":10},{"id":"n10","lat":17.4,"p":284,"v":10},{"id":"n10","lat":22.9,"p":237,"v":10},{"id":"n10","lat":29.4,"p":237,"v":10},{"id":"n10","lat":35.4,"p":284,"v":10},{"id":"n10","lat":39.8,"p":350,"v":10},{"id":"n10","lat":41.7,"p":497,"v":10},{"id":"n10","lat":42.5,"p":843,"v":10},{"id":"n10","lat":39.8,"p":869,"v":10},{"id":"n10","lat":34.9,"p":889,"v":10},{"id":"n10","lat":28.3,"p":869,"v":10},{"id":"n10","lat":20.1,"p":856,"v":10},{"id":"n10","lat":18.8,"p":816,"v":10},{"id":"n10","lat":17.4,"p":670,"v":10},{"id":"n10","lat":16.3,"p":483,"v":10},
{"id":"n12","lat":18,"p":390,"v":12},{"id":"n12","lat":19,"p":330,"v":12},{"id":"n12","lat":23.4,"p":290,"v":12},{"id":"n12","lat":28.9,"p":284,"v":12},{"id":"n12","lat":34.9,"p":317,"v":12},{"id":"n12","lat":38.7,"p":417,"v":12},{"id":"n12","lat":40.3,"p":590,"v":12},{"id":"n12","lat":41.1,"p":843,"v":12},{"id":"n12","lat":37.6,"p":869,"v":12},{"id":"n12","lat":33.2,"p":869,"v":12},{"id":"n12","lat":28.3,"p":843,"v":12},{"id":"n12","lat":22.3,"p":816,"v":12},{"id":"n12","lat":19,"p":776,"v":12},{"id":"n12","lat":18.2,"p":590,"v":12},
{"id":"n14","lat":20.7,"p":523,"v":14},{"id":"n14","lat":21.5,"p":443,"v":14},{"id":"n14","lat":24,"p":397,"v":14},{"id":"n14","lat":28.9,"p":363,"v":14},{"id":"n14","lat":32.2,"p":390,"v":14},{"id":"n14","lat":35.4,"p":510,"v":14},{"id":"n14","lat":36.8,"p":656,"v":14},{"id":"n14","lat":37.5,"p":803,"v":14},{"id":"n14","lat":36.5,"p":849,"v":14},{"id":"n14","lat":33.8,"p":829,"v":14},{"id":"n14","lat":31,"p":776,"v":14},{"id":"n14","lat":27.2,"p":743,"v":14},{"id":"n14","lat":24.5,"p":736,"v":14},{"id":"n14","lat":21.8,"p":683,"v":14},{"id":"n14","lat":20.7,"p":603,"v":14},
{"id":"n16","lat":29.6,"p":503,"v":16},{"id":"n16","lat":30.5,"p":477,"v":16},{"id":"n16","lat":31,"p":517,"v":16},{"id":"n16","lat":30.4,"p":570,"v":16},
{"id":"e2","lat":47.5,"p":1040,"v":-2},{"id":"e2","lat":47.7,"p":996,"v":-2},{"id":"e2","lat":49.9,"p":923,"v":-2},{"id":"e2","lat":48.8,"p":590,"v":-2},{"id":"e2","lat":49.1,"p":350,"v":-2},{"id":"e2","lat":50.7,"p":190,"v":-2},{"id":"e2","lat":54.5,"p":148,"v":-2},{"id":"e2","lat":58.4,"p":151,"v":-2},{"id":"e2","lat":61.6,"p":190,"v":-2},{"id":"e2","lat":65,"p":350,"v":-2},{"id":"e2","lat":68,"p":450,"v":-2},{"id":"e2","lat":68,"p":1040,"v":-2},
{"id":"e4","lat":50.7,"p":523,"v":-4},{"id":"e4","lat":50.7,"p":350,"v":-4},{"id":"e4","lat":52.1,"p":284,"v":-4},{"id":"e4","lat":56.7,"p":224,"v":-4},{"id":"e4","lat":60,"p":244,"v":-4},{"id":"e4","lat":62.2,"p":364,"v":-4},{"id":"e4","lat":64.1,"p":723,"v":-4},{"id":"e4","lat":65,"p":856,"v":-4},{"id":"e4","lat":68,"p":880,"v":-4},{"id":"e4","lat":68,"p":1040,"v":-4},{"id":"e4","lat":54.5,"p":1040,"v":-4},{"id":"e4","lat":54.5,"p":996,"v":-4},{"id":"e4","lat":55.1,"p":909,"v":-4},{"id":"e4","lat":52.9,"p":843,"v":-4},{"id":"e4","lat":51,"p":723,"v":-4},
{"id":"e6","lat":52.3,"p":483,"v":-6},{"id":"e6","lat":52.6,"p":390,"v":-6},{"id":"e6","lat":54.5,"p":337,"v":-6},{"id":"e6","lat":59.7,"p":350,"v":-6},{"id":"e6","lat":61.3,"p":457,"v":-6},{"id":"e6","lat":62.7,"p":829,"v":-6},{"id":"e6","lat":65,"p":936,"v":-6},{"id":"e6","lat":68,"p":950,"v":-6},{"id":"e6","lat":68,"p":1040,"v":-6},{"id":"e6","lat":55.1,"p":1040,"v":-6},{"id":"e6","lat":55.1,"p":996,"v":-6},{"id":"e6","lat":57.3,"p":909,"v":-6},{"id":"e6","lat":55.6,"p":869,"v":-6},{"id":"e6","lat":52.4,"p":829,"v":-6},{"id":"e6","lat":51.8,"p":656,"v":-6},
{"id":"e8","lat":54.2,"p":643,"v":-8},{"id":"e8","lat":55.6,"p":483,"v":-8},{"id":"e8","lat":57.8,"p":417,"v":-8},{"id":"e8","lat":59.2,"p":430,"v":-8},{"id":"e8","lat":60.8,"p":616,"v":-8},{"id":"e8","lat":59.7,"p":843,"v":-8},{"id":"e8","lat":58,"p":896,"v":-8},{"id":"e8","lat":56.2,"p":869,"v":-8},{"id":"e8","lat":54.5,"p":750,"v":-8},
{"id":"e8b","lat":57.3,"p":996,"v":-8},{"id":"e8b","lat":58.4,"p":969,"v":-8},{"id":"e8b","lat":60,"p":996,"v":-8},{"id":"e8b","lat":58.4,"p":1040,"v":-8},
{"id":"e10","lat":57.5,"p":643,"v":-10},{"id":"e10","lat":58.1,"p":583,"v":-10},{"id":"e10","lat":58.6,"p":656,"v":-10},{"id":"e10","lat":58.1,"p":756,"v":-10},
{"id":"m2","lat":-23,"p":1040,"v":-2},{"id":"m2","lat":-22.5,"p":996,"v":-2},{"id":"m2","lat":-20.8,"p":949,"v":-2},{"id":"m2","lat":-15.9,"p":916,"v":-2},{"id":"m2","lat":-9.9,"p":889,"v":-2},{"id":"m2","lat":-3.3,"p":856,"v":-2},{"id":"m2","lat":-3.3,"p":816,"v":-2},{"id":"m2","lat":-5.5,"p":723,"v":-2},{"id":"m2","lat":-7.2,"p":576,"v":-2},{"id":"m2","lat":-6.9,"p":430,"v":-2},{"id":"m2","lat":-2.8,"p":270,"v":-2},{"id":"m2","lat":0.5,"p":230,"v":-2},{"id":"m2","lat":3.2,"p":244,"v":-2},{"id":"m2","lat":6,"p":250,"v":-2},{"id":"m2","lat":9.8,"p":377,"v":-2},{"id":"m2","lat":10.8,"p":457,"v":-2},{"id":"m2","lat":14.7,"p":656,"v":-2},{"id":"m2","lat":16.9,"p":829,"v":-2},{"id":"m2","lat":17.4,"p":1000,"v":-2},{"id":"m2","lat":17.4,"p":1040,"v":-2},
{"id":"m4b","lat":-18,"p":1040,"v":-4},{"id":"m4b","lat":-17.8,"p":996,"v":-4},{"id":"m4b","lat":-16.4,"p":949,"v":-4},{"id":"m4b","lat":-13.7,"p":923,"v":-4},{"id":"m4b","lat":-9.9,"p":936,"v":-4},{"id":"m4b","lat":-8.3,"p":996,"v":-4},{"id":"m4b","lat":-8,"p":1040,"v":-4},
{"id":"m4","lat":-2.2,"p":1040,"v":-4},{"id":"m4","lat":-2.2,"p":996,"v":-4},{"id":"m4","lat":-1.4,"p":856,"v":-4},{"id":"m4","lat":-2.8,"p":803,"v":-4},{"id":"m4","lat":-5,"p":723,"v":-4},{"id":"m4","lat":-6.3,"p":576,"v":-4},{"id":"m4","lat":-6,"p":443,"v":-4},{"id":"m4","lat":-2.2,"p":304,"v":-4},{"id":"m4","lat":0.5,"p":260,"v":-4},{"id":"m4","lat":5.4,"p":260,"v":-4},{"id":"m4","lat":8.4,"p":304,"v":-4},{"id":"m4","lat":10.3,"p":443,"v":-4},{"id":"m4","lat":13.8,"p":643,"v":-4},{"id":"m4","lat":16,"p":829,"v":-4},{"id":"m4","lat":16.6,"p":1000,"v":-4},{"id":"m4","lat":16.6,"p":1040,"v":-4},
{"id":"m6","lat":-0.6,"p":1040,"v":-6},{"id":"m6","lat":-0.6,"p":1000,"v":-6},{"id":"m6","lat":0.2,"p":883,"v":-6},{"id":"m6","lat":-1.7,"p":803,"v":-6},{"id":"m6","lat":-4.2,"p":710,"v":-6},{"id":"m6","lat":-5.5,"p":576,"v":-6},{"id":"m6","lat":-5.2,"p":457,"v":-6},{"id":"m6","lat":-1.7,"p":324,"v":-6},{"id":"m6","lat":0.5,"p":284,"v":-6},{"id":"m6","lat":5.4,"p":284,"v":-6},{"id":"m6","lat":8.4,"p":350,"v":-6},{"id":"m6","lat":10.6,"p":417,"v":-6},{"id":"m6","lat":13,"p":643,"v":-6},{"id":"m6","lat":15.2,"p":843,"v":-6},{"id":"m6","lat":15.8,"p":1000,"v":-6},{"id":"m6","lat":15.8,"p":1040,"v":-6},
{"id":"m8","lat":0.8,"p":1040,"v":-8},{"id":"m8","lat":0.8,"p":1000,"v":-8},{"id":"m8","lat":1.3,"p":883,"v":-8},{"id":"m8","lat":-0.6,"p":803,"v":-8},{"id":"m8","lat":-3.1,"p":696,"v":-8},{"id":"m8","lat":-4.7,"p":576,"v":-8},{"id":"m8","lat":-4.4,"p":483,"v":-8},{"id":"m8","lat":-1.1,"p":350,"v":-8},{"id":"m8","lat":5.4,"p":324,"v":-8},{"id":"m8","lat":8.7,"p":377,"v":-8},{"id":"m8","lat":9.2,"p":417,"v":-8},{"id":"m8","lat":12.2,"p":643,"v":-8},{"id":"m8","lat":14.4,"p":843,"v":-8},{"id":"m8","lat":15,"p":1000,"v":-8},{"id":"m8","lat":15,"p":1040,"v":-8},
{"id":"m10","lat":2.7,"p":1040,"v":-10},{"id":"m10","lat":2.7,"p":1000,"v":-10},{"id":"m10","lat":2.7,"p":896,"v":-10},{"id":"m10","lat":0.5,"p":803,"v":-10},{"id":"m10","lat":-2.3,"p":696,"v":-10},{"id":"m10","lat":-3.9,"p":576,"v":-10},{"id":"m10","lat":-3.6,"p":483,"v":-10},{"id":"m10","lat":-0.6,"p":377,"v":-10},{"id":"m10","lat":6,"p":364,"v":-10},{"id":"m10","lat":10.3,"p":430,"v":-10},{"id":"m10","lat":11.4,"p":643,"v":-10},{"id":"m10","lat":13.6,"p":843,"v":-10},{"id":"m10","lat":14.2,"p":1000,"v":-10},{"id":"m10","lat":14.2,"p":1040,"v":-10},
{"id":"m12","lat":4,"p":1040,"v":-12},{"id":"m12","lat":4,"p":1000,"v":-12},{"id":"m12","lat":3.8,"p":883,"v":-12},{"id":"m12","lat":1.6,"p":803,"v":-12},{"id":"m12","lat":-1.1,"p":696,"v":-12},{"id":"m12","lat":-2.8,"p":576,"v":-12},{"id":"m12","lat":-2.5,"p":497,"v":-12},{"id":"m12","lat":0,"p":417,"v":-12},{"id":"m12","lat":6,"p":403,"v":-12},{"id":"m12","lat":10,"p":457,"v":-12},{"id":"m12","lat":10.6,"p":643,"v":-12},{"id":"m12","lat":12.5,"p":843,"v":-12},{"id":"m12","lat":13.3,"p":1000,"v":-12},{"id":"m12","lat":13.3,"p":1040,"v":-12},
{"id":"m14","lat":5.7,"p":1040,"v":-14},{"id":"m14","lat":5.7,"p":1000,"v":-14},{"id":"m14","lat":4.9,"p":896,"v":-14},{"id":"m14","lat":3.2,"p":803,"v":-14},{"id":"m14","lat":0,"p":696,"v":-14},{"id":"m14","lat":-1.1,"p":603,"v":-14},{"id":"m14","lat":-0.3,"p":510,"v":-14},{"id":"m14","lat":2.7,"p":483,"v":-14},{"id":"m14","lat":9.8,"p":483,"v":-14},{"id":"m14","lat":9.8,"p":643,"v":-14},{"id":"m14","lat":11.1,"p":843,"v":-14},{"id":"m14","lat":12,"p":1000,"v":-14},{"id":"m14","lat":12,"p":1040,"v":-14}],
"bArrow":[
{"id":"a1","kind":"sink","lat":-33,"p":477},{"id":"a1","kind":"sink","lat":-31.4,"p":477},{"id":"a1","kind":"sink","lat":-31.4,"p":723},{"id":"a1","kind":"sink","lat":-30.7,"p":723},{"id":"a1","kind":"sink","lat":-32.2,"p":796},{"id":"a1","kind":"sink","lat":-33.7,"p":723},{"id":"a1","kind":"sink","lat":-33,"p":723},{"id":"a1","kind":"sink","lat":-33,"p":477},
{"id":"a2","kind":"rise","lat":3.8,"p":796},{"id":"a2","kind":"rise","lat":5.3,"p":796},{"id":"a2","kind":"rise","lat":5.3,"p":556},{"id":"a2","kind":"rise","lat":6.1,"p":556},{"id":"a2","kind":"rise","lat":4.5,"p":490},{"id":"a2","kind":"rise","lat":3,"p":556},{"id":"a2","kind":"rise","lat":3.8,"p":556},{"id":"a2","kind":"rise","lat":3.8,"p":796},
{"id":"a3","kind":"sink","lat":26.8,"p":477},{"id":"a3","kind":"sink","lat":28.3,"p":477},{"id":"a3","kind":"sink","lat":28.3,"p":723},{"id":"a3","kind":"sink","lat":29,"p":723},{"id":"a3","kind":"sink","lat":27.6,"p":803},{"id":"a3","kind":"sink","lat":26,"p":723},{"id":"a3","kind":"sink","lat":26.8,"p":723},{"id":"a3","kind":"sink","lat":26.8,"p":477},
{"id":"a4","kind":"riseb","lat":55.5,"p":796},{"id":"a4","kind":"riseb","lat":57.2,"p":796},{"id":"a4","kind":"riseb","lat":57.2,"p":552},{"id":"a4","kind":"riseb","lat":57.9,"p":552},{"id":"a4","kind":"riseb","lat":56.3,"p":470},{"id":"a4","kind":"riseb","lat":54.7,"p":552},{"id":"a4","kind":"riseb","lat":55.5,"p":552},{"id":"a4","kind":"riseb","lat":55.5,"p":796}],
"bBox":[
{"lat0":-14.8,"lat1":-12.9,"p0":57,"p1":108},{"lat0":-9.2,"lat1":-7.3,"p0":127,"p1":184},{"lat0":-9.2,"lat1":-7.3,"p0":197,"p1":257},{"lat0":-15.4,"lat1":-11.4,"p0":863,"p1":906},{"lat0":1.3,"lat1":5.1,"p0":164,"p1":304},{"lat0":0,"lat1":6.2,"p0":304,"p1":494},{"lat0":23.2,"lat1":27,"p0":201,"p1":273},{"lat0":29.5,"lat1":31.3,"p0":30,"p1":244},{"lat0":28.6,"lat1":32.4,"p0":246,"p1":324},{"lat0":28.6,"lat1":32.4,"p0":326,"p1":393},{"lat0":34.2,"lat1":37.9,"p0":856,"p1":929},{"lat0":35,"lat1":37,"p0":929,"p1":969},{"lat0":56.3,"lat1":60.5,"p0":186,"p1":260},{"lat0":56.3,"lat1":60.5,"p0":260,"p1":330},{"lat0":56.3,"lat1":60.5,"p0":348,"p1":420}],
"bText":[
{"t":"0","lat":-13.8,"p":77},{"t":"2","lat":-8.3,"p":153},{"t":"4","lat":-8.3,"p":224},{"t":"−2","lat":-13.3,"p":883},{"t":"−2","lat":3.2,"p":190},{"t":"−4","lat":3.2,"p":250},{"t":"−6","lat":3.2,"p":297},{"t":"0","lat":5.3,"p":350},{"t":"2","lat":5.3,"p":395},{"t":"4","lat":5.3,"p":440},{"t":"10","lat":25,"p":237},{"t":"0","lat":30.5,"p":44},{"t":"2","lat":30.5,"p":97},{"t":"6","lat":30.5,"p":164},{"t":"8","lat":30.4,"p":210},{"t":"12","lat":30.4,"p":286},{"t":"14","lat":30.4,"p":357},{"t":"10","lat":36.2,"p":893},{"t":"6","lat":36,"p":942},{"t":"−4","lat":58.4,"p":224},{"t":"−6","lat":58.4,"p":301},{"t":"−8","lat":58.4,"p":384}],
"cOpen":[
{"id":"a","lat":-38,"p":261,"v":-1},{"id":"a","lat":-31.2,"p":267,"v":-1},{"id":"a","lat":-29.3,"p":300,"v":-1},{"id":"a","lat":-28.5,"p":426,"v":-1},{"id":"a","lat":-27.4,"p":546,"v":-1},{"id":"a","lat":-24.6,"p":625,"v":-1},{"id":"a","lat":-20.8,"p":665,"v":-1},{"id":"a","lat":-19.6,"p":705,"v":-1},{"id":"a","lat":-20.3,"p":811,"v":-1},{"id":"a","lat":-23.3,"p":931,"v":-1},{"id":"a","lat":-24.2,"p":1000,"v":-1},{"id":"a","lat":-24.6,"p":1040,"v":-1},
{"id":"b","lat":-38,"p":680,"v":-1},{"id":"b","lat":-35,"p":718,"v":-1},{"id":"b","lat":-30.9,"p":825,"v":-1},{"id":"b","lat":-30.7,"p":904,"v":-1},{"id":"b","lat":-30,"p":977,"v":-1},{"id":"b","lat":-29.3,"p":1000,"v":-1},{"id":"b","lat":-28,"p":1040,"v":-1},
{"id":"r","lat":29.9,"p":785,"v":-1},{"id":"r","lat":32.4,"p":732,"v":-1},{"id":"r","lat":35.5,"p":698,"v":-1},{"id":"r","lat":36,"p":678,"v":-1},{"id":"r","lat":37.6,"p":705,"v":-1},{"id":"r","lat":38.6,"p":785,"v":-1},{"id":"r","lat":37.6,"p":864,"v":-1},{"id":"r","lat":35.5,"p":897,"v":-1},{"id":"r","lat":32.7,"p":897,"v":-1}],
"cClosed":[
{"id":"d","lat":-25,"p":811,"v":-2},{"id":"d","lat":-24.1,"p":851,"v":-2},{"id":"d","lat":-24.8,"p":880,"v":-2},{"id":"d","lat":-25.9,"p":851,"v":-2},
{"id":"m1","lat":1.9,"p":1040,"v":-1},{"id":"m1","lat":1.9,"p":1000,"v":-1},{"id":"m1","lat":1,"p":931,"v":-1},{"id":"m1","lat":-1.1,"p":864,"v":-1},{"id":"m1","lat":-3.9,"p":825,"v":-1},{"id":"m1","lat":-7.7,"p":835,"v":-1},{"id":"m1","lat":-9.9,"p":798,"v":-1},{"id":"m1","lat":-12.6,"p":679,"v":-1},{"id":"m1","lat":-12.6,"p":599,"v":-1},{"id":"m1","lat":-11.8,"p":400,"v":-1},{"id":"m1","lat":-8.8,"p":334,"v":-1},{"id":"m1","lat":-7.2,"p":214,"v":-1},{"id":"m1","lat":-5.5,"p":148,"v":-1},{"id":"m1","lat":-4.2,"p":121,"v":-1},{"id":"m1","lat":2.1,"p":148,"v":-1},{"id":"m1","lat":3.2,"p":214,"v":-1},{"id":"m1","lat":1.9,"p":294,"v":-1},{"id":"m1","lat":2.2,"p":466,"v":-1},{"id":"m1","lat":6.5,"p":652,"v":-1},{"id":"m1","lat":10.9,"p":825,"v":-1},{"id":"m1","lat":12.5,"p":864,"v":-1},{"id":"m1","lat":15.2,"p":944,"v":-1},{"id":"m1","lat":16,"p":1000,"v":-1},{"id":"m1","lat":16,"p":1040,"v":-1},
{"id":"m2","lat":3.5,"p":1040,"v":-2},{"id":"m2","lat":3.5,"p":1000,"v":-2},{"id":"m2","lat":3.2,"p":931,"v":-2},{"id":"m2","lat":1.6,"p":864,"v":-2},{"id":"m2","lat":-3.3,"p":791,"v":-2},{"id":"m2","lat":-7.7,"p":718,"v":-2},{"id":"m2","lat":-9.3,"p":625,"v":-2},{"id":"m2","lat":-10.4,"p":493,"v":-2},{"id":"m2","lat":-9.3,"p":413,"v":-2},{"id":"m2","lat":-6.6,"p":320,"v":-2},{"id":"m2","lat":-4.2,"p":247,"v":-2},{"id":"m2","lat":-1.1,"p":241,"v":-2},{"id":"m2","lat":0.5,"p":387,"v":-2},{"id":"m2","lat":1.6,"p":453,"v":-2},{"id":"m2","lat":4.3,"p":546,"v":-2},{"id":"m2","lat":8.1,"p":679,"v":-2},{"id":"m2","lat":10.9,"p":798,"v":-2},{"id":"m2","lat":12,"p":878,"v":-2},{"id":"m2","lat":14.2,"p":944,"v":-2},{"id":"m2","lat":15.2,"p":1000,"v":-2},{"id":"m2","lat":15.2,"p":1040,"v":-2},
{"id":"m3","lat":5.1,"p":1040,"v":-3},{"id":"m3","lat":5.1,"p":1000,"v":-3},{"id":"m3","lat":4.9,"p":931,"v":-3},{"id":"m3","lat":2.1,"p":838,"v":-3},{"id":"m3","lat":-3.3,"p":758,"v":-3},{"id":"m3","lat":-6.6,"p":692,"v":-3},{"id":"m3","lat":-7.7,"p":599,"v":-3},{"id":"m3","lat":-8.8,"p":493,"v":-3},{"id":"m3","lat":-7.7,"p":426,"v":-3},{"id":"m3","lat":-5,"p":334,"v":-3},{"id":"m3","lat":-1.7,"p":294,"v":-3},{"id":"m3","lat":-0.3,"p":373,"v":-3},{"id":"m3","lat":1.1,"p":453,"v":-3},{"id":"m3","lat":5.4,"p":559,"v":-3},{"id":"m3","lat":9.8,"p":718,"v":-3},{"id":"m3","lat":11,"p":830,"v":-3},{"id":"m3","lat":13.3,"p":944,"v":-3},{"id":"m3","lat":14.4,"p":1000,"v":-3},{"id":"m3","lat":14.4,"p":1040,"v":-3},
{"id":"m4","lat":6.8,"p":1040,"v":-4},{"id":"m4","lat":6.8,"p":1000,"v":-4},{"id":"m4","lat":6,"p":917,"v":-4},{"id":"m4","lat":3.2,"p":851,"v":-4},{"id":"m4","lat":-1.1,"p":785,"v":-4},{"id":"m4","lat":-4.7,"p":705,"v":-4},{"id":"m4","lat":-6.1,"p":625,"v":-4},{"id":"m4","lat":-6.9,"p":506,"v":-4},{"id":"m4","lat":-6.3,"p":440,"v":-4},{"id":"m4","lat":-4.2,"p":387,"v":-4},{"id":"m4","lat":-1.7,"p":373,"v":-4},{"id":"m4","lat":0.5,"p":453,"v":-4},{"id":"m4","lat":4.3,"p":519,"v":-4},{"id":"m4","lat":9.2,"p":705,"v":-4},{"id":"m4","lat":10,"p":864,"v":-4},{"id":"m4","lat":12,"p":944,"v":-4},{"id":"m4","lat":13.3,"p":1000,"v":-4},{"id":"m4","lat":13.3,"p":1040,"v":-4},
{"id":"m5","lat":7.6,"p":1040,"v":-5},{"id":"m5","lat":7.6,"p":1000,"v":-5},{"id":"m5","lat":7,"p":931,"v":-5},{"id":"m5","lat":4.9,"p":878,"v":-5},{"id":"m5","lat":0.5,"p":785,"v":-5},{"id":"m5","lat":-3.3,"p":705,"v":-5},{"id":"m5","lat":-4.7,"p":652,"v":-5},{"id":"m5","lat":-5.2,"p":546,"v":-5},{"id":"m5","lat":-5.2,"p":466,"v":-5},{"id":"m5","lat":-4.2,"p":426,"v":-5},{"id":"m5","lat":-1.5,"p":440,"v":-5},{"id":"m5","lat":1.6,"p":519,"v":-5},{"id":"m5","lat":6.5,"p":652,"v":-5},{"id":"m5","lat":9.8,"p":771,"v":-5},{"id":"m5","lat":10.2,"p":891,"v":-5},{"id":"m5","lat":12,"p":970,"v":-5},{"id":"m5","lat":12.5,"p":1040,"v":-5},
{"id":"m6","lat":8.4,"p":1040,"v":-6},{"id":"m6","lat":8.4,"p":1000,"v":-6},{"id":"m6","lat":7.9,"p":931,"v":-6},{"id":"m6","lat":6.6,"p":891,"v":-6},{"id":"m6","lat":1.6,"p":798,"v":-6},{"id":"m6","lat":-3.1,"p":705,"v":-6},{"id":"m6","lat":-4.2,"p":599,"v":-6},{"id":"m6","lat":-4.4,"p":506,"v":-6},{"id":"m6","lat":-4.2,"p":453,"v":-6},{"id":"m6","lat":-1.7,"p":459,"v":-6},{"id":"m6","lat":2.1,"p":599,"v":-6},{"id":"m6","lat":7,"p":718,"v":-6},{"id":"m6","lat":10.9,"p":825,"v":-6},{"id":"m6","lat":10.6,"p":917,"v":-6},{"id":"m6","lat":11.7,"p":1000,"v":-6},{"id":"m6","lat":11.7,"p":1040,"v":-6},
{"id":"m8","lat":6.2,"p":851,"v":-8},{"id":"m8","lat":7.9,"p":827,"v":-8},{"id":"m8","lat":9,"p":851,"v":-8},{"id":"m8","lat":7.6,"p":875,"v":-8},
{"id":"p1","lat":15,"p":1040,"v":1},{"id":"p1","lat":15,"p":1000,"v":1},{"id":"p1","lat":12.5,"p":917,"v":1},{"id":"p1","lat":10.9,"p":811,"v":1},{"id":"p1","lat":7.6,"p":665,"v":1},{"id":"p1","lat":3.2,"p":493,"v":1},{"id":"p1","lat":3.2,"p":400,"v":1},{"id":"p1","lat":4.4,"p":294,"v":1},{"id":"p1","lat":7,"p":214,"v":1},{"id":"p1","lat":9.2,"p":188,"v":1},{"id":"p1","lat":12.5,"p":181,"v":1},{"id":"p1","lat":16.3,"p":201,"v":1},{"id":"p1","lat":18.5,"p":227,"v":1},{"id":"p1","lat":22.3,"p":227,"v":1},{"id":"p1","lat":27.8,"p":161,"v":1},{"id":"p1","lat":34.9,"p":108,"v":1},{"id":"p1","lat":42,"p":75,"v":1},{"id":"p1","lat":47.4,"p":75,"v":1},{"id":"p1","lat":51.3,"p":108,"v":1},{"id":"p1","lat":53.2,"p":154,"v":1},{"id":"p1","lat":52.4,"p":227,"v":1},{"id":"p1","lat":51.3,"p":360,"v":1},{"id":"p1","lat":49.6,"p":506,"v":1},{"id":"p1","lat":47,"p":583,"v":1},{"id":"p1","lat":42.8,"p":453,"v":1},{"id":"p1","lat":41.5,"p":426,"v":1},{"id":"p1","lat":37.6,"p":440,"v":1},{"id":"p1","lat":35.4,"p":493,"v":1},{"id":"p1","lat":32.7,"p":599,"v":1},{"id":"p1","lat":30,"p":705,"v":1},{"id":"p1","lat":28.6,"p":838,"v":1},{"id":"p1","lat":30,"p":944,"v":1},{"id":"p1","lat":30.2,"p":1000,"v":1},{"id":"p1","lat":30.2,"p":1040,"v":1},
{"id":"p2","lat":16.3,"p":1040,"v":2},{"id":"p2","lat":16.3,"p":1000,"v":2},{"id":"p2","lat":12.5,"p":904,"v":2},{"id":"p2","lat":10.9,"p":791,"v":2},{"id":"p2","lat":8.1,"p":679,"v":2},{"id":"p2","lat":3.5,"p":493,"v":2},{"id":"p2","lat":3.8,"p":400,"v":2},{"id":"p2","lat":4.6,"p":320,"v":2},{"id":"p2","lat":6.5,"p":267,"v":2},{"id":"p2","lat":9.2,"p":214,"v":2},{"id":"p2","lat":13,"p":214,"v":2},{"id":"p2","lat":16.9,"p":247,"v":2},{"id":"p2","lat":20.1,"p":300,"v":2},{"id":"p2","lat":24,"p":304,"v":2},{"id":"p2","lat":27.8,"p":227,"v":2},{"id":"p2","lat":32.2,"p":201,"v":2},{"id":"p2","lat":36.5,"p":181,"v":2},{"id":"p2","lat":43.1,"p":154,"v":2},{"id":"p2","lat":47,"p":167,"v":2},{"id":"p2","lat":48.6,"p":247,"v":2},{"id":"p2","lat":48.6,"p":334,"v":2},{"id":"p2","lat":47,"p":466,"v":2},{"id":"p2","lat":42.5,"p":327,"v":2},{"id":"p2","lat":38.7,"p":353,"v":2},{"id":"p2","lat":34.3,"p":426,"v":2},{"id":"p2","lat":32.2,"p":519,"v":2},{"id":"p2","lat":29.4,"p":652,"v":2},{"id":"p2","lat":28,"p":838,"v":2},{"id":"p2","lat":29.4,"p":944,"v":2},{"id":"p2","lat":29.7,"p":1040,"v":2},
{"id":"p3","lat":17.1,"p":1040,"v":3},{"id":"p3","lat":17.1,"p":1000,"v":3},{"id":"p3","lat":13,"p":904,"v":3},{"id":"p3","lat":10.9,"p":758,"v":3},{"id":"p3","lat":8.7,"p":665,"v":3},{"id":"p3","lat":4,"p":479,"v":3},{"id":"p3","lat":5.1,"p":387,"v":3},{"id":"p3","lat":6.8,"p":307,"v":3},{"id":"p3","lat":9.2,"p":224,"v":3},{"id":"p3","lat":13,"p":227,"v":3},{"id":"p3","lat":16.3,"p":260,"v":3},{"id":"p3","lat":19.6,"p":353,"v":3},{"id":"p3","lat":24.5,"p":373,"v":3},{"id":"p3","lat":28.3,"p":307,"v":3},{"id":"p3","lat":30,"p":254,"v":3},{"id":"p3","lat":32.7,"p":280,"v":3},{"id":"p3","lat":34,"p":327,"v":3},{"id":"p3","lat":33.5,"p":440,"v":3},{"id":"p3","lat":31,"p":546,"v":3},{"id":"p3","lat":28.9,"p":652,"v":3},{"id":"p3","lat":27.5,"p":838,"v":3},{"id":"p3","lat":28.6,"p":944,"v":3},{"id":"p3","lat":28.9,"p":1040,"v":3},
{"id":"p4","lat":18,"p":1040,"v":4},{"id":"p4","lat":18,"p":1000,"v":4},{"id":"p4","lat":13.3,"p":878,"v":4},{"id":"p4","lat":9.2,"p":665,"v":4},{"id":"p4","lat":4.6,"p":479,"v":4},{"id":"p4","lat":5.7,"p":400,"v":4},{"id":"p4","lat":7,"p":334,"v":4},{"id":"p4","lat":9.2,"p":247,"v":4},{"id":"p4","lat":13,"p":254,"v":4},{"id":"p4","lat":16.3,"p":307,"v":4},{"id":"p4","lat":18.8,"p":426,"v":4},{"id":"p4","lat":24.5,"p":446,"v":4},{"id":"p4","lat":27.8,"p":413,"v":4},{"id":"p4","lat":30,"p":373,"v":4},{"id":"p4","lat":31.6,"p":393,"v":4},{"id":"p4","lat":31.5,"p":506,"v":4},{"id":"p4","lat":28.3,"p":652,"v":4},{"id":"p4","lat":27,"p":838,"v":4},{"id":"p4","lat":28,"p":944,"v":4},{"id":"p4","lat":28.3,"p":1040,"v":4},
{"id":"p5","lat":18.5,"p":1040,"v":5},{"id":"p5","lat":18.5,"p":1000,"v":5},{"id":"p5","lat":14.1,"p":878,"v":5},{"id":"p5","lat":9.8,"p":665,"v":5},{"id":"p5","lat":5.1,"p":493,"v":5},{"id":"p5","lat":6,"p":426,"v":5},{"id":"p5","lat":7.3,"p":347,"v":5},{"id":"p5","lat":9.2,"p":267,"v":5},{"id":"p5","lat":13,"p":280,"v":5},{"id":"p5","lat":15.8,"p":347,"v":5},{"id":"p5","lat":19.3,"p":473,"v":5},{"id":"p5","lat":23.4,"p":493,"v":5},{"id":"p5","lat":27.2,"p":473,"v":5},{"id":"p5","lat":30,"p":466,"v":5},{"id":"p5","lat":27.2,"p":652,"v":5},{"id":"p5","lat":26.3,"p":838,"v":5},{"id":"p5","lat":27.3,"p":944,"v":5},{"id":"p5","lat":27.5,"p":1040,"v":5},
{"id":"p6","lat":19,"p":1040,"v":6},{"id":"p6","lat":19,"p":1000,"v":6},{"id":"p6","lat":14.7,"p":851,"v":6},{"id":"p6","lat":9.8,"p":652,"v":6},{"id":"p6","lat":6,"p":506,"v":6},{"id":"p6","lat":6.2,"p":440,"v":6},{"id":"p6","lat":7.6,"p":360,"v":6},{"id":"p6","lat":9.2,"p":287,"v":6},{"id":"p6","lat":12.5,"p":300,"v":6},{"id":"p6","lat":15.2,"p":373,"v":6},{"id":"p6","lat":18.5,"p":479,"v":6},{"id":"p6","lat":22.9,"p":493,"v":6},{"id":"p6","lat":25.6,"p":546,"v":6},{"id":"p6","lat":26.7,"p":652,"v":6},{"id":"p6","lat":25.6,"p":838,"v":6},{"id":"p6","lat":26.4,"p":944,"v":6},{"id":"p6","lat":26.7,"p":1040,"v":6},
{"id":"p8","lat":20,"p":1040,"v":8},{"id":"p8","lat":20,"p":1000,"v":8},{"id":"p8","lat":15,"p":851,"v":8},{"id":"p8","lat":10.9,"p":652,"v":8},{"id":"p8","lat":7.3,"p":519,"v":8},{"id":"p8","lat":6.7,"p":453,"v":8},{"id":"p8","lat":8.1,"p":400,"v":8},{"id":"p8","lat":9.2,"p":320,"v":8},{"id":"p8","lat":12,"p":334,"v":8},{"id":"p8","lat":14.7,"p":400,"v":8},{"id":"p8","lat":17.4,"p":493,"v":8},{"id":"p8","lat":22.3,"p":546,"v":8},{"id":"p8","lat":25.6,"p":652,"v":8},{"id":"p8","lat":25.6,"p":785,"v":8},{"id":"p8","lat":25,"p":944,"v":8},{"id":"p8","lat":25.6,"p":1040,"v":8},
{"id":"p10","lat":20.7,"p":1040,"v":10},{"id":"p10","lat":20.7,"p":1000,"v":10},{"id":"p10","lat":19,"p":944,"v":10},{"id":"p10","lat":15.2,"p":825,"v":10},{"id":"p10","lat":10.9,"p":625,"v":10},{"id":"p10","lat":7,"p":506,"v":10},{"id":"p10","lat":7,"p":453,"v":10},{"id":"p10","lat":9,"p":397,"v":10},{"id":"p10","lat":11.4,"p":393,"v":10},{"id":"p10","lat":14.4,"p":406,"v":10},{"id":"p10","lat":15.5,"p":493,"v":10},{"id":"p10","lat":20.2,"p":586,"v":10},{"id":"p10","lat":24,"p":679,"v":10},{"id":"p10","lat":24.5,"p":771,"v":10},{"id":"p10","lat":24,"p":931,"v":10},{"id":"p10","lat":24.5,"p":1040,"v":10},
{"id":"p12","lat":13.3,"p":599,"v":12},{"id":"p12","lat":13.6,"p":533,"v":12},{"id":"p12","lat":16.3,"p":546,"v":12},{"id":"p12","lat":21.2,"p":625,"v":12},{"id":"p12","lat":24,"p":700,"v":12},{"id":"p12","lat":23.4,"p":811,"v":12},{"id":"p12","lat":20.5,"p":870,"v":12},{"id":"p12","lat":18.8,"p":870,"v":12},{"id":"p12","lat":16.3,"p":700,"v":12},
{"id":"p14","lat":15.6,"p":718,"v":14},{"id":"p14","lat":17.4,"p":665,"v":14},{"id":"p14","lat":20.1,"p":665,"v":14},{"id":"p14","lat":22,"p":758,"v":14},{"id":"p14","lat":21.5,"p":864,"v":14},{"id":"p14","lat":18.5,"p":864,"v":14},{"id":"p14","lat":16.3,"p":785,"v":14},
{"id":"p16","lat":18.5,"p":758,"v":16},{"id":"p16","lat":19.3,"p":694,"v":16},{"id":"p16","lat":20.1,"p":758,"v":16},{"id":"p16","lat":20.4,"p":864,"v":16},{"id":"p16","lat":18.5,"p":864,"v":16},
{"id":"b1","lat":-6.9,"p":1000,"v":1},{"id":"b1","lat":-6.1,"p":944,"v":1},{"id":"b1","lat":-2.8,"p":907,"v":1},{"id":"b1","lat":-1.1,"p":944,"v":1},{"id":"b1","lat":-0.9,"p":1000,"v":1},{"id":"b1","lat":-3.9,"p":1040,"v":1},
{"id":"b2","lat":-3.8,"p":1000,"v":2},{"id":"b2","lat":-2.9,"p":950,"v":2},{"id":"b2","lat":-2.2,"p":1000,"v":2},{"id":"b2","lat":-3,"p":1040,"v":2},
{"id":"r2","lat":29.4,"p":798,"v":-2},{"id":"r2","lat":31.6,"p":798,"v":-2},{"id":"r2","lat":34.9,"p":851,"v":-2},{"id":"r2","lat":31.6,"p":864,"v":-2},{"id":"r2","lat":29.2,"p":838,"v":-2},
{"id":"k1","lat":45.2,"p":851,"v":-1},{"id":"k1","lat":46.9,"p":785,"v":-1},{"id":"k1","lat":49.4,"p":851,"v":-1},{"id":"k1","lat":47.2,"p":891,"v":-1},
{"id":"k2","lat":63.8,"p":771,"v":-1},{"id":"k2","lat":62.8,"p":845,"v":-1},{"id":"k2","lat":64.1,"p":867,"v":-1},{"id":"k2","lat":65,"p":838,"v":-1},{"id":"k2","lat":64.4,"p":811,"v":-1},
{"id":"k3","lat":58.1,"p":463,"v":-1},{"id":"k3","lat":58.5,"p":473,"v":-1},{"id":"k3","lat":58.1,"p":500,"v":-1},{"id":"k3","lat":57.8,"p":473,"v":-1}],
"cBox":[
{"lat0":-4.4,"lat1":-0.3,"p0":95,"p1":141},{"lat0":-4.4,"lat1":-0.4,"p0":181,"p1":241},{"lat0":-4.5,"lat1":0,"p0":261,"p1":453},{"lat0":18.5,"lat1":20.2,"p0":207,"p1":261},{"lat0":18.5,"lat1":20.4,"p0":265,"p1":324},{"lat0":29.5,"lat1":31.5,"p0":227,"p1":290},{"lat0":29.5,"lat1":31.5,"p0":318,"p1":380},{"lat0":40.6,"lat1":42.8,"p0":280,"p1":344},{"lat0":40.8,"lat1":42.5,"p0":393,"p1":455},{"lat0":13.1,"lat1":15,"p0":254,"p1":367},{"lat0":12.2,"lat1":15.8,"p0":367,"p1":437},{"lat0":17.7,"lat1":21.3,"p0":838,"p1":928},{"lat0":28.9,"lat1":32.4,"p0":875,"p1":924}],
"cText":[
{"t":"−1","lat":-2.5,"p":117},{"t":"−2","lat":-2.5,"p":207},{"t":"−3","lat":-2.5,"p":300},{"t":"−4","lat":-2.5,"p":343},{"t":"−5","lat":-2.5,"p":383},{"t":"−6","lat":-2.5,"p":424},{"t":"1","lat":19.3,"p":234},{"t":"2","lat":19.3,"p":294},{"t":"3","lat":30.5,"p":258},{"t":"4","lat":30.5,"p":347},{"t":"2","lat":41.6,"p":312},{"t":"1","lat":41.6,"p":424},{"t":"6","lat":14,"p":287},{"t":"8","lat":14,"p":344},{"t":"10","lat":14,"p":403},{"t":"14","lat":19.5,"p":875},{"t":"−1","lat":30.6,"p":901}]
},
"vconcat":[
{"width":608,"height":243.5,"resolve":{"scale":{"fill":"independent"}},"layer":[
{"data":{"name":"aClosed"},"transform":[{"window":[{"op":"row_number","as":"i"}]},{"calculate":"datum.v<0?'neg':'pos'","as":"sign"}],"mark":{"type":"line","clip":true,"interpolate":"cardinal-closed","tension":0.35,"stroke":"#111","strokeWidth":1.5},"encoding":{"x":{"field":"lat","type":"quantitative","scale":{"domain":[-35,65],"nice":false,"zero":false},"axis":{"values":[-30,-20,-10,0,10,20,30,40,50,60],"tickCount":12,"labelOverlap":false,"labelExpr":"datum.value<0?(-datum.value)+'S':datum.value==0?'EQ':datum.value+'N'","title":null}},"y":{"field":"p","type":"quantitative","scale":{"domain":[28,1000],"nice":false,"zero":false,"reverse":true},"axis":{"values":[100,200,300,400,500,600,700,800,900,1000],"format":"d","tickCount":12,"labelOverlap":false,"labelFontSize":19,"title":"hPa","titleAngle":0,"titleFontSize":14,"titleFontWeight":"normal","titleColor":"#222","titleAlign":"center","titleBaseline":"alphabetic","titleX":-26,"titleY":-8}},"detail":{"field":"id"},"order":{"field":"i"},"fill":{"field":"v","type":"ordinal","legend":null,"scale":{"domain":[-18,-16,-14,-12,-10,-8,-6,-5,-4,-3,-2,-1,1,2,3,4,5,6,8,10,12,14,16],"range":["#0a2c64","#0a2c64","#0a2c64","#084a8c","#0a5ba6","#0868b4","#3b87c6","#8cacd8","#8cacd8","#c4d4ea","#c4d4ea","transparent","transparent","#fbdcb6","#fbdcb6","#ef9c62","#ef9c62","#ee7b33","#e65f12","#c94e10","#b24a12","#823a0f","#823a0f"]}},"strokeDash":{"field":"sign","type":"nominal","legend":null,"scale":{"domain":["neg","pos"],"range":[[4,2.5],[1,0]]}}}},
{"data":{"name":"aOpen"},"transform":[{"window":[{"op":"row_number","as":"i"}]}],"mark":{"type":"line","clip":true,"interpolate":"cardinal","tension":0.35,"stroke":"#111","strokeWidth":1.5},"encoding":{"x":{"field":"lat","type":"quantitative"},"y":{"field":"p","type":"quantitative"},"detail":{"field":"id"},"order":{"field":"i"}}},
{"data":{"name":"gridLat"},"mark":{"type":"rule","stroke":"#999","strokeDash":[2,8],"strokeWidth":1},"encoding":{"x":{"field":"lat","type":"quantitative"}}},
{"data":{"name":"gridP"},"mark":{"type":"rule","stroke":"#999","strokeDash":[2,8],"strokeWidth":1},"encoding":{"y":{"field":"p","type":"quantitative"}}},
{"data":{"name":"aArrow"},"transform":[{"window":[{"op":"row_number","as":"i"}]}],"mark":{"type":"line","interpolate":"linear","stroke":"#333","strokeWidth":1.2},"encoding":{"x":{"field":"lat","type":"quantitative"},"y":{"field":"p","type":"quantitative"},"detail":{"field":"id"},"order":{"field":"i"},"fill":{"field":"kind","type":"nominal","legend":null,"scale":{"domain":["sink","rise","riseb"],"range":["#e2d3ca","#b8c6d8","#b8d4ec"]}}}},
{"data":{"name":"aBox"},"mark":{"type":"rect","fill":"white"},"encoding":{"x":{"field":"lat0","type":"quantitative"},"x2":{"field":"lat1"},"y":{"field":"p0","type":"quantitative"},"y2":{"field":"p1"}}},
{"data":{"name":"aText"},"mark":{"type":"text","fontSize":18,"font":"Liberation Sans","color":"#111","baseline":"middle","align":"center"},"encoding":{"x":{"field":"lat","type":"quantitative"},"y":{"field":"p","type":"quantitative"},"text":{"field":"t"}}},
{"data":{"values":[{"t":"a)","lat":-42.4,"p":-100}]},"mark":{"type":"text","fontSize":30,"font":"Liberation Sans","color":"#222","baseline":"alphabetic","align":"left"},"encoding":{"x":{"field":"lat","type":"quantitative"},"y":{"field":"p","type":"quantitative"},"text":{"field":"t"}}},
{"data":{"values":[{"t":"TORT","lat":64.9,"p":4}]},"mark":{"type":"text","fontSize":19,"font":"Liberation Sans","color":"#111","baseline":"alphabetic","align":"right"},"encoding":{"x":{"field":"lat","type":"quantitative"},"y":{"field":"p","type":"quantitative"},"text":{"field":"t"}}},
{"data":{"values":[{"lat0":-35,"lat1":65,"p0":28,"p1":1000}]},"mark":{"type":"rect","fill":"transparent","stroke":"#111","strokeWidth":3},"encoding":{"x":{"field":"lat0","type":"quantitative"},"x2":{"field":"lat1"},"y":{"field":"p0","type":"quantitative"},"y2":{"field":"p1"}}}]},
{"width":608,"height":243.5,"resolve":{"scale":{"fill":"independent"}},"layer":[
{"data":{"name":"bClosed"},"transform":[{"window":[{"op":"row_number","as":"i"}]},{"calculate":"datum.v<0?'neg':'pos'","as":"sign"}],"mark":{"type":"line","clip":true,"interpolate":"cardinal-closed","tension":0.35,"stroke":"#111","strokeWidth":1.5},"encoding":{"x":{"field":"lat","type":"quantitative","scale":{"domain":[-35,65],"nice":false,"zero":false},"axis":{"values":[-30,-20,-10,0,10,20,30,40,50,60],"tickCount":12,"labelOverlap":false,"labelExpr":"datum.value<0?(-datum.value)+'S':datum.value==0?'EQ':datum.value+'N'","title":null}},"y":{"field":"p","type":"quantitative","scale":{"domain":[28,1000],"nice":false,"zero":false,"reverse":true},"axis":{"values":[100,200,300,400,500,600,700,800,900,1000],"format":"d","tickCount":12,"labelOverlap":false,"labelFontSize":19,"title":"hPa","titleAngle":0,"titleFontSize":14,"titleFontWeight":"normal","titleColor":"#222","titleAlign":"center","titleBaseline":"alphabetic","titleX":-26,"titleY":-8}},"detail":{"field":"id"},"order":{"field":"i"},"fill":{"field":"v","type":"ordinal","legend":null,"scale":{"domain":[-18,-16,-14,-12,-10,-8,-6,-5,-4,-3,-2,-1,1,2,3,4,5,6,8,10,12,14,16],"range":["#0a2c64","#0a2c64","#0a2c64","#084a8c","#0a5ba6","#0868b4","#3b87c6","#8cacd8","#8cacd8","#c4d4ea","#c4d4ea","transparent","transparent","#fbdcb6","#fbdcb6","#ef9c62","#ef9c62","#ee7b33","#e65f12","#c94e10","#b24a12","#823a0f","#823a0f"]}},"strokeDash":{"field":"sign","type":"nominal","legend":null,"scale":{"domain":["neg","pos"],"range":[[4,2.5],[1,0]]}}}},
{"data":{"name":"bOpen"},"transform":[{"window":[{"op":"row_number","as":"i"}]}],"mark":{"type":"line","clip":true,"interpolate":"cardinal","tension":0.35,"stroke":"#111","strokeWidth":1.5},"encoding":{"x":{"field":"lat","type":"quantitative"},"y":{"field":"p","type":"quantitative"},"detail":{"field":"id"},"order":{"field":"i"}}},
{"data":{"name":"gridLat"},"mark":{"type":"rule","stroke":"#999","strokeDash":[2,8],"strokeWidth":1},"encoding":{"x":{"field":"lat","type":"quantitative"}}},
{"data":{"name":"gridP"},"mark":{"type":"rule","stroke":"#999","strokeDash":[2,8],"strokeWidth":1},"encoding":{"y":{"field":"p","type":"quantitative"}}},
{"data":{"name":"bArrow"},"transform":[{"window":[{"op":"row_number","as":"i"}]}],"mark":{"type":"line","interpolate":"linear","stroke":"#333","strokeWidth":1.2},"encoding":{"x":{"field":"lat","type":"quantitative"},"y":{"field":"p","type":"quantitative"},"detail":{"field":"id"},"order":{"field":"i"},"fill":{"field":"kind","type":"nominal","legend":null,"scale":{"domain":["sink","rise","riseb"],"range":["#e2d3ca","#b8c6d8","#b8d4ec"]}}}},
{"data":{"name":"bBox"},"mark":{"type":"rect","fill":"white"},"encoding":{"x":{"field":"lat0","type":"quantitative"},"x2":{"field":"lat1"},"y":{"field":"p0","type":"quantitative"},"y2":{"field":"p1"}}},
{"data":{"name":"bText"},"mark":{"type":"text","fontSize":18,"font":"Liberation Sans","color":"#111","baseline":"middle","align":"center"},"encoding":{"x":{"field":"lat","type":"quantitative"},"y":{"field":"p","type":"quantitative"},"text":{"field":"t"}}},
{"data":{"values":[{"t":"b)","lat":-42.4,"p":-102}]},"mark":{"type":"text","fontSize":30,"font":"Liberation Sans","color":"#222","baseline":"alphabetic","align":"left"},"encoding":{"x":{"field":"lat","type":"quantitative"},"y":{"field":"p","type":"quantitative"},"text":{"field":"t"}}},
{"data":{"values":[{"t":"SAHARA","lat":64.9,"p":4}]},"mark":{"type":"text","fontSize":19,"font":"Liberation Sans","color":"#111","baseline":"alphabetic","align":"right"},"encoding":{"x":{"field":"lat","type":"quantitative"},"y":{"field":"p","type":"quantitative"},"text":{"field":"t"}}},
{"data":{"values":[{"lat0":-35,"lat1":65,"p0":28,"p1":1000}]},"mark":{"type":"rect","fill":"transparent","stroke":"#111","strokeWidth":3},"encoding":{"x":{"field":"lat0","type":"quantitative"},"x2":{"field":"lat1"},"y":{"field":"p0","type":"quantitative"},"y2":{"field":"p1"}}}]},
{"width":608,"height":243.5,"layer":[
{"data":{"name":"cClosed"},"transform":[{"window":[{"op":"row_number","as":"i"}]},{"calculate":"datum.v<0?'neg':'pos'","as":"sign"}],"mark":{"type":"line","clip":true,"interpolate":"cardinal-closed","tension":0.35,"stroke":"#111","strokeWidth":1.5},"encoding":{"x":{"field":"lat","type":"quantitative","scale":{"domain":[-35,65],"nice":false,"zero":false},"axis":{"values":[-30,-20,-10,0,10,20,30,40,50,60],"tickCount":12,"labelOverlap":false,"labelExpr":"datum.value<0?(-datum.value)+'S':datum.value==0?'EQ':datum.value+'N'","title":null}},"y":{"field":"p","type":"quantitative","scale":{"domain":[28,1000],"nice":false,"zero":false,"reverse":true},"axis":{"values":[100,200,300,400,500,600,700,800,900,1000],"format":"d","tickCount":12,"labelOverlap":false,"labelFontSize":19,"title":"hPa","titleAngle":0,"titleFontSize":14,"titleFontWeight":"normal","titleColor":"#222","titleAlign":"center","titleBaseline":"alphabetic","titleX":-26,"titleY":-8}},"detail":{"field":"id"},"order":{"field":"i"},"fill":{"field":"v","type":"ordinal","legend":null,"scale":{"domain":[-18,-16,-14,-12,-10,-8,-6,-5,-4,-3,-2,-1,1,2,3,4,5,6,8,10,12,14,16],"range":["#0a2c64","#0a2c64","#0a2c64","#084a8c","#0a5ba6","#0868b4","#3b87c6","#8cacd8","#8cacd8","#c4d4ea","#c4d4ea","transparent","transparent","#fbdcb6","#fbdcb6","#ef9c62","#ef9c62","#ee7b33","#e65f12","#c94e10","#b24a12","#823a0f","#823a0f"]}},"strokeDash":{"field":"sign","type":"nominal","legend":null,"scale":{"domain":["neg","pos"],"range":[[4,2.5],[1,0]]}}}},
{"data":{"name":"cOpen"},"transform":[{"window":[{"op":"row_number","as":"i"}]}],"mark":{"type":"line","clip":true,"interpolate":"cardinal","tension":0.35,"stroke":"#111","strokeWidth":1.5,"strokeDash":[4,2.5]},"encoding":{"x":{"field":"lat","type":"quantitative"},"y":{"field":"p","type":"quantitative"},"detail":{"field":"id"},"order":{"field":"i"}}},
{"data":{"name":"gridLat"},"mark":{"type":"rule","stroke":"#999","strokeDash":[2,8],"strokeWidth":1},"encoding":{"x":{"field":"lat","type":"quantitative"}}},
{"data":{"name":"gridP"},"mark":{"type":"rule","stroke":"#999","strokeDash":[2,8],"strokeWidth":1},"encoding":{"y":{"field":"p","type":"quantitative"}}},
{"data":{"name":"cBox"},"mark":{"type":"rect","fill":"white"},"encoding":{"x":{"field":"lat0","type":"quantitative"},"x2":{"field":"lat1"},"y":{"field":"p0","type":"quantitative"},"y2":{"field":"p1"}}},
{"data":{"name":"cText"},"mark":{"type":"text","fontSize":18,"font":"Liberation Sans","color":"#111","baseline":"middle","align":"center"},"encoding":{"x":{"field":"lat","type":"quantitative"},"y":{"field":"p","type":"quantitative"},"text":{"field":"t"}}},
{"data":{"values":[{"lat0":11.2,"lat1":34.8,"p0":28,"p1":1000}]},"mark":{"type":"rect","fill":"#000","opacity":0.14},"encoding":{"x":{"field":"lat0","type":"quantitative"},"x2":{"field":"lat1"},"y":{"field":"p0","type":"quantitative"},"y2":{"field":"p1"}}},
{"data":{"values":[{"t":"c)","lat":-42.4,"p":-92}]},"mark":{"type":"text","fontSize":30,"font":"Liberation Sans","color":"#222","baseline":"alphabetic","align":"left"},"encoding":{"x":{"field":"lat","type":"quantitative"},"y":{"field":"p","type":"quantitative"},"text":{"field":"t"}}},
{"data":{"values":[{"t":"SAHARA minus TORT","lat":64.9,"p":4}]},"mark":{"type":"text","fontSize":19,"font":"Liberation Sans","color":"#111","baseline":"alphabetic","align":"right"},"encoding":{"x":{"field":"lat","type":"quantitative"},"y":{"field":"p","type":"quantitative"},"text":{"field":"t"}}},
{"data":{"values":[{"lat0":-35,"lat1":65,"p0":28,"p1":1000}]},"mark":{"type":"rect","fill":"transparent","stroke":"#111","strokeWidth":3},"encoding":{"x":{"field":"lat0","type":"quantitative"},"x2":{"field":"lat1"},"y":{"field":"p0","type":"quantitative"},"y2":{"field":"p1"}}}]}
]}
